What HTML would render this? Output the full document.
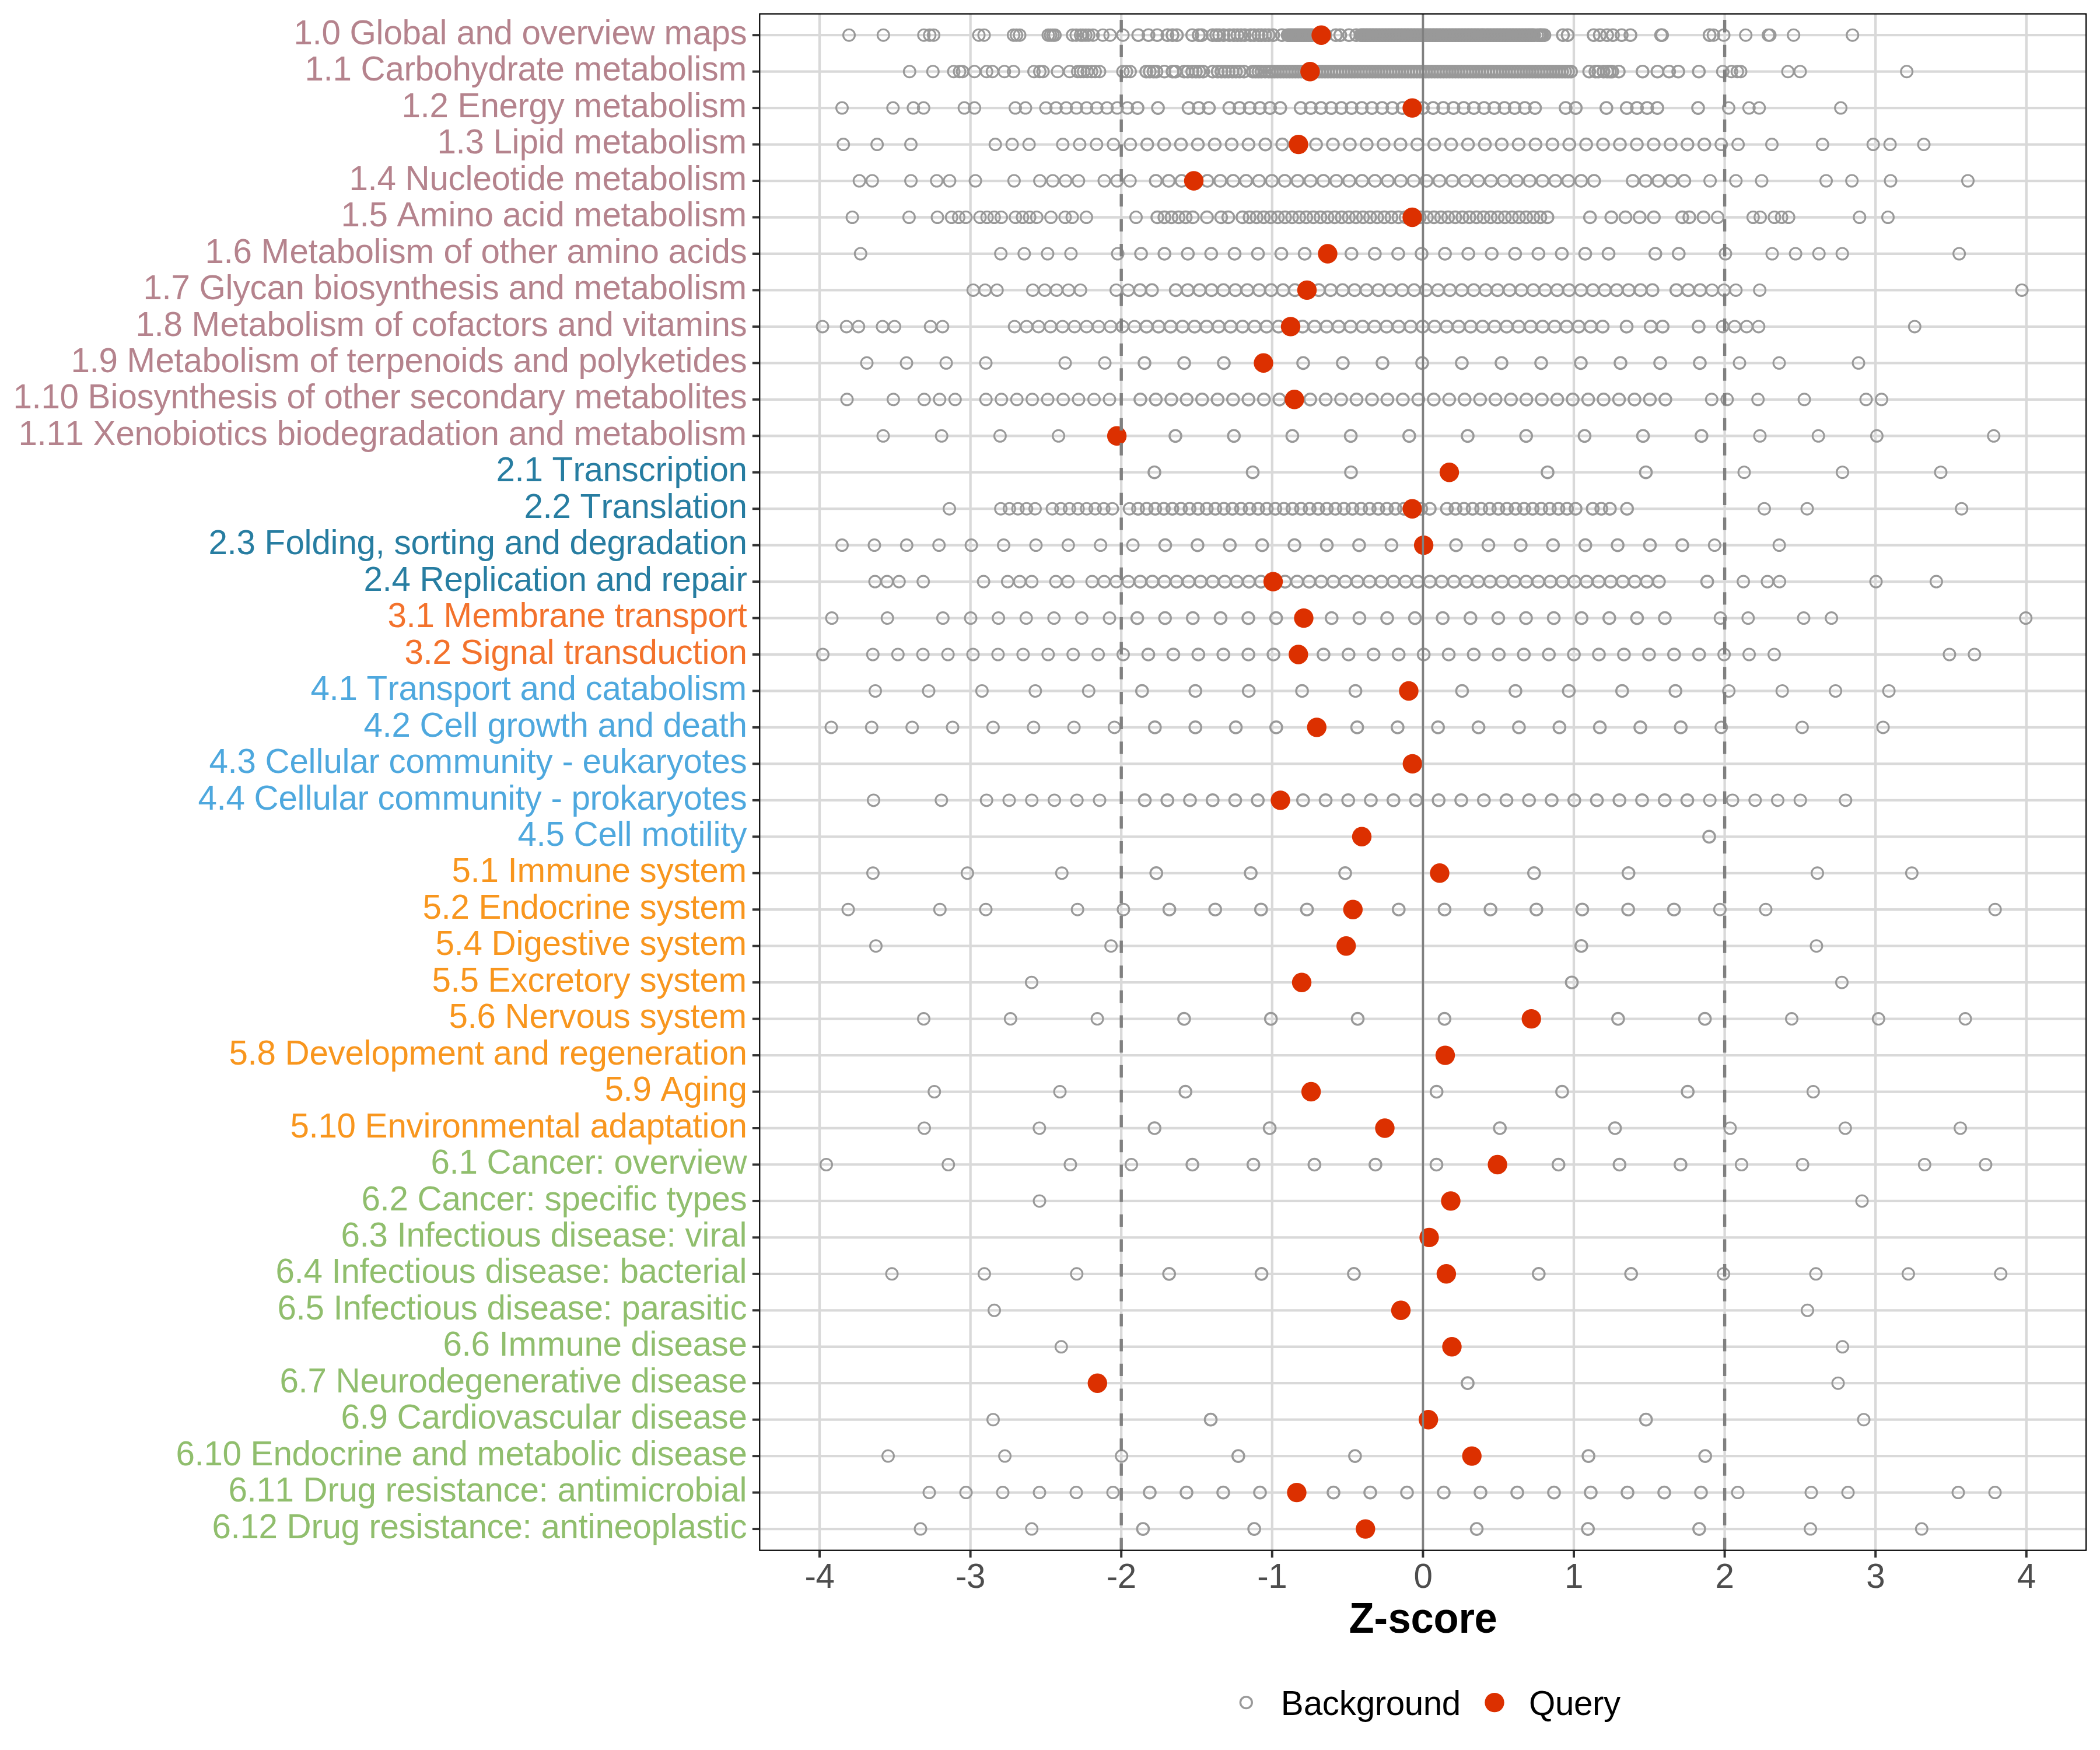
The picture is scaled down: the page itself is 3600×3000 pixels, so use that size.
<!DOCTYPE html>
<html><head><meta charset="utf-8"><title>Z-score</title>
<style>
html,body{margin:0;padding:0;background:#fff}
svg{display:block}
text{font-family:"Liberation Sans",sans-serif}
.yl{font-size:58.33px;text-anchor:end}
.xl{font-size:58.33px;text-anchor:middle;fill:#4D4D4D}
.bg{fill:none;stroke:#999999;stroke-width:3.45}
.q{fill:#DC3000}
</style></head><body>
<svg width="3600" height="3000" viewBox="0 0 3600 3000">
<rect width="3600" height="3000" fill="#fff"/>

<g stroke="#D9D9D9" stroke-width="4.3" fill="none">
<line x1="1302.3" x2="3576.2" y1="60.20" y2="60.20"/>
<line x1="1302.3" x2="3576.2" y1="122.66" y2="122.66"/>
<line x1="1302.3" x2="3576.2" y1="185.12" y2="185.12"/>
<line x1="1302.3" x2="3576.2" y1="247.58" y2="247.58"/>
<line x1="1302.3" x2="3576.2" y1="310.04" y2="310.04"/>
<line x1="1302.3" x2="3576.2" y1="372.50" y2="372.50"/>
<line x1="1302.3" x2="3576.2" y1="434.96" y2="434.96"/>
<line x1="1302.3" x2="3576.2" y1="497.42" y2="497.42"/>
<line x1="1302.3" x2="3576.2" y1="559.88" y2="559.88"/>
<line x1="1302.3" x2="3576.2" y1="622.34" y2="622.34"/>
<line x1="1302.3" x2="3576.2" y1="684.80" y2="684.80"/>
<line x1="1302.3" x2="3576.2" y1="747.26" y2="747.26"/>
<line x1="1302.3" x2="3576.2" y1="809.72" y2="809.72"/>
<line x1="1302.3" x2="3576.2" y1="872.18" y2="872.18"/>
<line x1="1302.3" x2="3576.2" y1="934.64" y2="934.64"/>
<line x1="1302.3" x2="3576.2" y1="997.10" y2="997.10"/>
<line x1="1302.3" x2="3576.2" y1="1059.56" y2="1059.56"/>
<line x1="1302.3" x2="3576.2" y1="1122.02" y2="1122.02"/>
<line x1="1302.3" x2="3576.2" y1="1184.48" y2="1184.48"/>
<line x1="1302.3" x2="3576.2" y1="1246.94" y2="1246.94"/>
<line x1="1302.3" x2="3576.2" y1="1309.40" y2="1309.40"/>
<line x1="1302.3" x2="3576.2" y1="1371.86" y2="1371.86"/>
<line x1="1302.3" x2="3576.2" y1="1434.32" y2="1434.32"/>
<line x1="1302.3" x2="3576.2" y1="1496.78" y2="1496.78"/>
<line x1="1302.3" x2="3576.2" y1="1559.24" y2="1559.24"/>
<line x1="1302.3" x2="3576.2" y1="1621.70" y2="1621.70"/>
<line x1="1302.3" x2="3576.2" y1="1684.16" y2="1684.16"/>
<line x1="1302.3" x2="3576.2" y1="1746.62" y2="1746.62"/>
<line x1="1302.3" x2="3576.2" y1="1809.08" y2="1809.08"/>
<line x1="1302.3" x2="3576.2" y1="1871.54" y2="1871.54"/>
<line x1="1302.3" x2="3576.2" y1="1934.00" y2="1934.00"/>
<line x1="1302.3" x2="3576.2" y1="1996.46" y2="1996.46"/>
<line x1="1302.3" x2="3576.2" y1="2058.92" y2="2058.92"/>
<line x1="1302.3" x2="3576.2" y1="2121.38" y2="2121.38"/>
<line x1="1302.3" x2="3576.2" y1="2183.84" y2="2183.84"/>
<line x1="1302.3" x2="3576.2" y1="2246.30" y2="2246.30"/>
<line x1="1302.3" x2="3576.2" y1="2308.76" y2="2308.76"/>
<line x1="1302.3" x2="3576.2" y1="2371.22" y2="2371.22"/>
<line x1="1302.3" x2="3576.2" y1="2433.68" y2="2433.68"/>
<line x1="1302.3" x2="3576.2" y1="2496.14" y2="2496.14"/>
<line x1="1302.3" x2="3576.2" y1="2558.60" y2="2558.60"/>
<line x1="1302.3" x2="3576.2" y1="2621.06" y2="2621.06"/>
<line x1="1405.00" x2="1405.00" y1="23.8" y2="2657.7"/>
<line x1="1663.60" x2="1663.60" y1="23.8" y2="2657.7"/>
<line x1="1922.20" x2="1922.20" y1="23.8" y2="2657.7"/>
<line x1="2180.80" x2="2180.80" y1="23.8" y2="2657.7"/>
<line x1="2439.40" x2="2439.40" y1="23.8" y2="2657.7"/>
<line x1="2698.00" x2="2698.00" y1="23.8" y2="2657.7"/>
<line x1="2956.60" x2="2956.60" y1="23.8" y2="2657.7"/>
<line x1="3215.20" x2="3215.20" y1="23.8" y2="2657.7"/>
<line x1="3473.80" x2="3473.80" y1="23.8" y2="2657.7"/>
</g>
<g class="bg">
<circle cx="1455.5" cy="60.2" r="9.95" stroke-width="3.1"/>
<circle cx="1514.3" cy="60.2" r="9.95" stroke-width="3.1"/>
<circle cx="1583.8" cy="60.2" r="9.95" stroke-width="3.1"/>
<circle cx="1593.8" cy="60.2" r="9.95" stroke-width="3.1"/>
<circle cx="1600.5" cy="60.2" r="9.95" stroke-width="3.1"/>
<circle cx="1678.0" cy="60.2" r="9.95" stroke-width="3.1"/>
<circle cx="1687.0" cy="60.2" r="9.95" stroke-width="3.1"/>
<circle cx="1737.5" cy="60.2" r="9.95" stroke-width="3.1"/>
<circle cx="1742.5" cy="60.2" r="9.95" stroke-width="3.1"/>
<circle cx="1748.0" cy="60.2" r="9.95" stroke-width="3.1"/>
<circle cx="1797.0" cy="60.2" r="9.95" stroke-width="3.1"/>
<circle cx="1801.0" cy="60.2" r="9.95" stroke-width="3.1"/>
<circle cx="1805.0" cy="60.2" r="9.95" stroke-width="3.1"/>
<circle cx="1808.5" cy="60.2" r="9.95" stroke-width="3.1"/>
<circle cx="1838.8" cy="60.2" r="9.95" stroke-width="3.1"/>
<circle cx="1845.0" cy="60.2" r="9.95" stroke-width="3.1"/>
<circle cx="1852.5" cy="60.2" r="9.95" stroke-width="3.1"/>
<circle cx="1856.3" cy="60.2" r="9.95" stroke-width="3.1"/>
<circle cx="1861.3" cy="60.2" r="9.95" stroke-width="3.1"/>
<circle cx="1866.3" cy="60.2" r="9.95" stroke-width="3.1"/>
<circle cx="1873.8" cy="60.2" r="9.95" stroke-width="3.1"/>
<circle cx="1890.5" cy="60.2" r="9.95" stroke-width="3.1"/>
<circle cx="1903.0" cy="60.2" r="9.95" stroke-width="3.1"/>
<circle cx="1925.0" cy="60.2" r="9.95" stroke-width="3.1"/>
<circle cx="1951.3" cy="60.2" r="10.1"/>
<circle cx="1968.8" cy="60.2" r="10.1"/>
<circle cx="1983.8" cy="60.2" r="10.1"/>
<circle cx="2001.3" cy="60.2" r="10.1"/>
<circle cx="2010.0" cy="60.2" r="10.1"/>
<circle cx="2017.5" cy="60.2" r="10.1"/>
<circle cx="2043.8" cy="60.2" r="10.1"/>
<circle cx="2055.0" cy="60.2" r="10.1"/>
<circle cx="2060.0" cy="60.2" r="10.1"/>
<circle cx="2078.8" cy="60.2" r="10.1"/>
<circle cx="2085.0" cy="60.2" r="10.1"/>
<circle cx="2090.0" cy="60.2" r="10.1"/>
<circle cx="2097.5" cy="60.2" r="10.1"/>
<circle cx="2107.5" cy="60.2" r="10.1"/>
<circle cx="2115.0" cy="60.2" r="10.1"/>
<circle cx="2121.3" cy="60.2" r="10.1"/>
<circle cx="2127.5" cy="60.2" r="10.1"/>
<circle cx="2133.8" cy="60.2" r="10.1"/>
<circle cx="2143.8" cy="60.2" r="10.1"/>
<circle cx="2150.0" cy="60.2" r="10.1"/>
<circle cx="2157.5" cy="60.2" r="10.1"/>
<circle cx="2162.5" cy="60.2" r="10.1"/>
<circle cx="2168.8" cy="60.2" r="10.1"/>
<circle cx="2175.0" cy="60.2" r="10.1"/>
<circle cx="2182.5" cy="60.2" r="10.1"/>
<circle cx="2197.5" cy="60.2" r="10.1"/>
<circle cx="2207.5" cy="60.2" r="10.1"/>
<circle cx="2210.5" cy="60.2" r="10.1"/>
<circle cx="2213.5" cy="60.2" r="10.1"/>
<circle cx="2216.5" cy="60.2" r="10.1"/>
<circle cx="2219.5" cy="60.2" r="10.1"/>
<circle cx="2222.5" cy="60.2" r="10.1"/>
<circle cx="2225.5" cy="60.2" r="10.1"/>
<circle cx="2228.5" cy="60.2" r="10.1"/>
<circle cx="2231.5" cy="60.2" r="10.1"/>
<circle cx="2234.5" cy="60.2" r="10.1"/>
<circle cx="2237.5" cy="60.2" r="10.1"/>
<circle cx="2240.5" cy="60.2" r="10.1"/>
<circle cx="2243.5" cy="60.2" r="10.1"/>
<circle cx="2246.5" cy="60.2" r="10.1"/>
<circle cx="2249.5" cy="60.2" r="10.1"/>
<circle cx="2257.0" cy="60.2" r="10.1"/>
<circle cx="2272.0" cy="60.2" r="10.1"/>
<circle cx="2290.0" cy="60.2" r="10.1"/>
<circle cx="2297.5" cy="60.2" r="10.1"/>
<circle cx="2312.5" cy="60.2" r="10.1"/>
<circle cx="2325.0" cy="60.2" r="10.1"/>
<circle cx="2332.5" cy="60.2" r="10.1"/>
<circle cx="2335.0" cy="60.2" r="10.1"/>
<circle cx="2337.5" cy="60.2" r="10.1"/>
<circle cx="2340.0" cy="60.2" r="10.1"/>
<circle cx="2342.5" cy="60.2" r="10.1"/>
<circle cx="2345.0" cy="60.2" r="10.1"/>
<circle cx="2347.5" cy="60.2" r="10.1"/>
<circle cx="2350.0" cy="60.2" r="10.1"/>
<circle cx="2352.5" cy="60.2" r="10.1"/>
<circle cx="2355.0" cy="60.2" r="10.1"/>
<circle cx="2357.5" cy="60.2" r="10.1"/>
<circle cx="2360.0" cy="60.2" r="10.1"/>
<circle cx="2362.5" cy="60.2" r="10.1"/>
<circle cx="2365.0" cy="60.2" r="10.1"/>
<circle cx="2367.5" cy="60.2" r="10.1"/>
<circle cx="2370.0" cy="60.2" r="10.1"/>
<circle cx="2372.5" cy="60.2" r="10.1"/>
<circle cx="2375.0" cy="60.2" r="10.1"/>
<circle cx="2377.5" cy="60.2" r="10.1"/>
<circle cx="2380.0" cy="60.2" r="10.1"/>
<circle cx="2382.5" cy="60.2" r="10.1"/>
<circle cx="2385.0" cy="60.2" r="10.1"/>
<circle cx="2387.5" cy="60.2" r="10.1"/>
<circle cx="2390.0" cy="60.2" r="10.1"/>
<circle cx="2392.5" cy="60.2" r="10.1"/>
<circle cx="2395.0" cy="60.2" r="10.1"/>
<circle cx="2397.5" cy="60.2" r="10.1"/>
<circle cx="2400.0" cy="60.2" r="10.1"/>
<circle cx="2402.5" cy="60.2" r="10.1"/>
<circle cx="2405.0" cy="60.2" r="10.1"/>
<circle cx="2407.5" cy="60.2" r="10.1"/>
<circle cx="2410.0" cy="60.2" r="10.1"/>
<circle cx="2412.5" cy="60.2" r="10.1"/>
<circle cx="2415.0" cy="60.2" r="10.1"/>
<circle cx="2417.5" cy="60.2" r="10.1"/>
<circle cx="2420.0" cy="60.2" r="10.1"/>
<circle cx="2422.5" cy="60.2" r="10.1"/>
<circle cx="2425.0" cy="60.2" r="10.1"/>
<circle cx="2427.5" cy="60.2" r="10.1"/>
<circle cx="2430.0" cy="60.2" r="10.1"/>
<circle cx="2432.5" cy="60.2" r="10.1"/>
<circle cx="2435.0" cy="60.2" r="10.1"/>
<circle cx="2437.5" cy="60.2" r="10.1"/>
<circle cx="2440.0" cy="60.2" r="10.1"/>
<circle cx="2442.5" cy="60.2" r="10.1"/>
<circle cx="2445.0" cy="60.2" r="10.1"/>
<circle cx="2447.5" cy="60.2" r="10.1"/>
<circle cx="2450.0" cy="60.2" r="10.1"/>
<circle cx="2452.5" cy="60.2" r="10.1"/>
<circle cx="2455.0" cy="60.2" r="10.1"/>
<circle cx="2457.5" cy="60.2" r="10.1"/>
<circle cx="2460.0" cy="60.2" r="10.1"/>
<circle cx="2462.5" cy="60.2" r="10.1"/>
<circle cx="2465.0" cy="60.2" r="10.1"/>
<circle cx="2467.5" cy="60.2" r="10.1"/>
<circle cx="2470.0" cy="60.2" r="10.1"/>
<circle cx="2472.5" cy="60.2" r="10.1"/>
<circle cx="2475.0" cy="60.2" r="10.1"/>
<circle cx="2477.5" cy="60.2" r="10.1"/>
<circle cx="2480.0" cy="60.2" r="10.1"/>
<circle cx="2482.5" cy="60.2" r="10.1"/>
<circle cx="2485.0" cy="60.2" r="10.1"/>
<circle cx="2487.5" cy="60.2" r="10.1"/>
<circle cx="2490.0" cy="60.2" r="10.1"/>
<circle cx="2492.5" cy="60.2" r="10.1"/>
<circle cx="2495.0" cy="60.2" r="10.1"/>
<circle cx="2497.5" cy="60.2" r="10.1"/>
<circle cx="2500.0" cy="60.2" r="10.1"/>
<circle cx="2502.5" cy="60.2" r="10.1"/>
<circle cx="2505.0" cy="60.2" r="10.1"/>
<circle cx="2507.5" cy="60.2" r="10.1"/>
<circle cx="2510.0" cy="60.2" r="10.1"/>
<circle cx="2512.5" cy="60.2" r="10.1"/>
<circle cx="2515.0" cy="60.2" r="10.1"/>
<circle cx="2517.5" cy="60.2" r="10.1"/>
<circle cx="2520.0" cy="60.2" r="10.1"/>
<circle cx="2522.5" cy="60.2" r="10.1"/>
<circle cx="2525.0" cy="60.2" r="10.1"/>
<circle cx="2527.5" cy="60.2" r="10.1"/>
<circle cx="2530.0" cy="60.2" r="10.1"/>
<circle cx="2532.5" cy="60.2" r="10.1"/>
<circle cx="2535.0" cy="60.2" r="10.1"/>
<circle cx="2537.5" cy="60.2" r="10.1"/>
<circle cx="2540.0" cy="60.2" r="10.1"/>
<circle cx="2542.5" cy="60.2" r="10.1"/>
<circle cx="2545.0" cy="60.2" r="10.1"/>
<circle cx="2547.5" cy="60.2" r="10.1"/>
<circle cx="2550.0" cy="60.2" r="10.1"/>
<circle cx="2552.5" cy="60.2" r="10.1"/>
<circle cx="2555.0" cy="60.2" r="10.1"/>
<circle cx="2557.5" cy="60.2" r="10.1"/>
<circle cx="2560.0" cy="60.2" r="10.1"/>
<circle cx="2562.5" cy="60.2" r="10.1"/>
<circle cx="2565.0" cy="60.2" r="10.1"/>
<circle cx="2567.5" cy="60.2" r="10.1"/>
<circle cx="2570.0" cy="60.2" r="10.1"/>
<circle cx="2572.5" cy="60.2" r="10.1"/>
<circle cx="2575.0" cy="60.2" r="10.1"/>
<circle cx="2577.5" cy="60.2" r="10.1"/>
<circle cx="2580.0" cy="60.2" r="10.1"/>
<circle cx="2582.5" cy="60.2" r="10.1"/>
<circle cx="2585.0" cy="60.2" r="10.1"/>
<circle cx="2587.5" cy="60.2" r="10.1"/>
<circle cx="2590.0" cy="60.2" r="10.1"/>
<circle cx="2592.5" cy="60.2" r="10.1"/>
<circle cx="2595.0" cy="60.2" r="10.1"/>
<circle cx="2597.5" cy="60.2" r="10.1"/>
<circle cx="2600.0" cy="60.2" r="10.1"/>
<circle cx="2602.5" cy="60.2" r="10.1"/>
<circle cx="2605.0" cy="60.2" r="10.1"/>
<circle cx="2607.5" cy="60.2" r="10.1"/>
<circle cx="2610.0" cy="60.2" r="10.1"/>
<circle cx="2612.5" cy="60.2" r="10.1"/>
<circle cx="2615.0" cy="60.2" r="10.1"/>
<circle cx="2617.5" cy="60.2" r="10.1"/>
<circle cx="2620.0" cy="60.2" r="10.1"/>
<circle cx="2622.5" cy="60.2" r="10.1"/>
<circle cx="2625.0" cy="60.2" r="10.1"/>
<circle cx="2627.5" cy="60.2" r="10.1"/>
<circle cx="2630.0" cy="60.2" r="10.1"/>
<circle cx="2635.0" cy="60.2" r="10.1"/>
<circle cx="2638.8" cy="60.2" r="10.1"/>
<circle cx="2641.3" cy="60.2" r="10.1"/>
<circle cx="2643.8" cy="60.2" r="10.1"/>
<circle cx="2647.5" cy="60.2" r="10.1"/>
<circle cx="2679.3" cy="60.2" r="10.1"/>
<circle cx="2687.5" cy="60.2" r="10.1"/>
<circle cx="2732.0" cy="60.2" r="10.1"/>
<circle cx="2742.5" cy="60.2" r="10.1"/>
<circle cx="2755.0" cy="60.2" r="10.1"/>
<circle cx="2765.0" cy="60.2" r="10.1"/>
<circle cx="2780.0" cy="60.2" r="10.1"/>
<circle cx="2795.0" cy="60.2" r="10.1"/>
<circle cx="2847.6" cy="60.2" r="10.1"/>
<circle cx="2849.2" cy="60.2" r="10.1"/>
<circle cx="2930.7" cy="60.2" r="10.1"/>
<circle cx="2937.3" cy="60.2" r="9.95" stroke-width="3.1"/>
<circle cx="2955.0" cy="60.2" r="9.95" stroke-width="3.1"/>
<circle cx="2992.7" cy="60.2" r="9.95" stroke-width="3.1"/>
<circle cx="3031.5" cy="60.2" r="9.95" stroke-width="3.1"/>
<circle cx="3034.0" cy="60.2" r="9.95" stroke-width="3.1"/>
<circle cx="3074.7" cy="60.2" r="9.95" stroke-width="3.1"/>
<circle cx="3175.7" cy="60.2" r="9.95" stroke-width="3.1"/>
<circle cx="1559.3" cy="122.7" r="9.95" stroke-width="3.1"/>
<circle cx="1599.3" cy="122.7" r="9.95" stroke-width="3.1"/>
<circle cx="1635.0" cy="122.7" r="9.95" stroke-width="3.1"/>
<circle cx="1645.0" cy="122.7" r="9.95" stroke-width="3.1"/>
<circle cx="1650.0" cy="122.7" r="9.95" stroke-width="3.1"/>
<circle cx="1670.5" cy="122.7" r="9.95" stroke-width="3.1"/>
<circle cx="1691.3" cy="122.7" r="9.95" stroke-width="3.1"/>
<circle cx="1701.3" cy="122.7" r="9.95" stroke-width="3.1"/>
<circle cx="1721.8" cy="122.7" r="9.95" stroke-width="3.1"/>
<circle cx="1737.5" cy="122.7" r="9.95" stroke-width="3.1"/>
<circle cx="1772.5" cy="122.7" r="9.95" stroke-width="3.1"/>
<circle cx="1782.5" cy="122.7" r="9.95" stroke-width="3.1"/>
<circle cx="1788.0" cy="122.7" r="9.95" stroke-width="3.1"/>
<circle cx="1813.0" cy="122.7" r="9.95" stroke-width="3.1"/>
<circle cx="1833.8" cy="122.7" r="9.95" stroke-width="3.1"/>
<circle cx="1847.5" cy="122.7" r="9.95" stroke-width="3.1"/>
<circle cx="1852.5" cy="122.7" r="9.95" stroke-width="3.1"/>
<circle cx="1857.5" cy="122.7" r="9.95" stroke-width="3.1"/>
<circle cx="1863.8" cy="122.7" r="9.95" stroke-width="3.1"/>
<circle cx="1871.3" cy="122.7" r="9.95" stroke-width="3.1"/>
<circle cx="1877.5" cy="122.7" r="9.95" stroke-width="3.1"/>
<circle cx="1885.0" cy="122.7" r="9.95" stroke-width="3.1"/>
<circle cx="1925.0" cy="122.7" r="9.95" stroke-width="3.1"/>
<circle cx="1931.0" cy="122.7" r="9.95" stroke-width="3.1"/>
<circle cx="1937.5" cy="122.7" r="9.95" stroke-width="3.1"/>
<circle cx="1965.0" cy="122.7" r="10.1"/>
<circle cx="1971.0" cy="122.7" r="10.1"/>
<circle cx="1977.5" cy="122.7" r="10.1"/>
<circle cx="1982.5" cy="122.7" r="10.1"/>
<circle cx="1996.0" cy="122.7" r="10.1"/>
<circle cx="2010.0" cy="122.7" r="10.1"/>
<circle cx="2015.0" cy="122.7" r="10.1"/>
<circle cx="2030.0" cy="122.7" r="10.1"/>
<circle cx="2036.0" cy="122.7" r="10.1"/>
<circle cx="2043.8" cy="122.7" r="10.1"/>
<circle cx="2050.0" cy="122.7" r="10.1"/>
<circle cx="2056.0" cy="122.7" r="10.1"/>
<circle cx="2062.5" cy="122.7" r="10.1"/>
<circle cx="2078.8" cy="122.7" r="10.1"/>
<circle cx="2087.5" cy="122.7" r="10.1"/>
<circle cx="2093.8" cy="122.7" r="10.1"/>
<circle cx="2100.0" cy="122.7" r="10.1"/>
<circle cx="2106.0" cy="122.7" r="10.1"/>
<circle cx="2112.5" cy="122.7" r="10.1"/>
<circle cx="2118.8" cy="122.7" r="10.1"/>
<circle cx="2125.0" cy="122.7" r="10.1"/>
<circle cx="2132.5" cy="122.7" r="10.1"/>
<circle cx="2147.5" cy="122.7" r="10.1"/>
<circle cx="2152.5" cy="122.7" r="10.1"/>
<circle cx="2157.5" cy="122.7" r="10.1"/>
<circle cx="2162.5" cy="122.7" r="10.1"/>
<circle cx="2168.8" cy="122.7" r="10.1"/>
<circle cx="2175.0" cy="122.7" r="10.1"/>
<circle cx="2180.1" cy="122.7" r="10.1"/>
<circle cx="2185.2" cy="122.7" r="10.1"/>
<circle cx="2190.2" cy="122.7" r="10.1"/>
<circle cx="2195.3" cy="122.7" r="10.1"/>
<circle cx="2200.4" cy="122.7" r="10.1"/>
<circle cx="2205.5" cy="122.7" r="10.1"/>
<circle cx="2210.6" cy="122.7" r="10.1"/>
<circle cx="2215.6" cy="122.7" r="10.1"/>
<circle cx="2220.7" cy="122.7" r="10.1"/>
<circle cx="2225.8" cy="122.7" r="10.1"/>
<circle cx="2230.9" cy="122.7" r="10.1"/>
<circle cx="2236.0" cy="122.7" r="10.1"/>
<circle cx="2241.0" cy="122.7" r="10.1"/>
<circle cx="2246.1" cy="122.7" r="10.1"/>
<circle cx="2251.2" cy="122.7" r="10.1"/>
<circle cx="2256.3" cy="122.7" r="10.1"/>
<circle cx="2261.4" cy="122.7" r="10.1"/>
<circle cx="2266.4" cy="122.7" r="10.1"/>
<circle cx="2271.5" cy="122.7" r="10.1"/>
<circle cx="2276.6" cy="122.7" r="10.1"/>
<circle cx="2281.7" cy="122.7" r="10.1"/>
<circle cx="2286.8" cy="122.7" r="10.1"/>
<circle cx="2291.8" cy="122.7" r="10.1"/>
<circle cx="2296.9" cy="122.7" r="10.1"/>
<circle cx="2302.0" cy="122.7" r="10.1"/>
<circle cx="2307.1" cy="122.7" r="10.1"/>
<circle cx="2312.2" cy="122.7" r="10.1"/>
<circle cx="2317.2" cy="122.7" r="10.1"/>
<circle cx="2322.3" cy="122.7" r="10.1"/>
<circle cx="2327.4" cy="122.7" r="10.1"/>
<circle cx="2332.5" cy="122.7" r="10.1"/>
<circle cx="2337.6" cy="122.7" r="10.1"/>
<circle cx="2342.6" cy="122.7" r="10.1"/>
<circle cx="2347.7" cy="122.7" r="10.1"/>
<circle cx="2352.8" cy="122.7" r="10.1"/>
<circle cx="2357.9" cy="122.7" r="10.1"/>
<circle cx="2363.0" cy="122.7" r="10.1"/>
<circle cx="2368.0" cy="122.7" r="10.1"/>
<circle cx="2373.1" cy="122.7" r="10.1"/>
<circle cx="2378.2" cy="122.7" r="10.1"/>
<circle cx="2383.3" cy="122.7" r="10.1"/>
<circle cx="2388.4" cy="122.7" r="10.1"/>
<circle cx="2393.4" cy="122.7" r="10.1"/>
<circle cx="2398.5" cy="122.7" r="10.1"/>
<circle cx="2403.6" cy="122.7" r="10.1"/>
<circle cx="2408.7" cy="122.7" r="10.1"/>
<circle cx="2413.8" cy="122.7" r="10.1"/>
<circle cx="2418.8" cy="122.7" r="10.1"/>
<circle cx="2423.9" cy="122.7" r="10.1"/>
<circle cx="2429.0" cy="122.7" r="10.1"/>
<circle cx="2434.1" cy="122.7" r="10.1"/>
<circle cx="2439.2" cy="122.7" r="10.1"/>
<circle cx="2444.2" cy="122.7" r="10.1"/>
<circle cx="2449.3" cy="122.7" r="10.1"/>
<circle cx="2454.4" cy="122.7" r="10.1"/>
<circle cx="2459.5" cy="122.7" r="10.1"/>
<circle cx="2464.6" cy="122.7" r="10.1"/>
<circle cx="2469.6" cy="122.7" r="10.1"/>
<circle cx="2474.7" cy="122.7" r="10.1"/>
<circle cx="2479.8" cy="122.7" r="10.1"/>
<circle cx="2484.9" cy="122.7" r="10.1"/>
<circle cx="2490.0" cy="122.7" r="10.1"/>
<circle cx="2495.0" cy="122.7" r="10.1"/>
<circle cx="2500.1" cy="122.7" r="10.1"/>
<circle cx="2505.2" cy="122.7" r="10.1"/>
<circle cx="2510.3" cy="122.7" r="10.1"/>
<circle cx="2515.4" cy="122.7" r="10.1"/>
<circle cx="2520.4" cy="122.7" r="10.1"/>
<circle cx="2525.5" cy="122.7" r="10.1"/>
<circle cx="2530.6" cy="122.7" r="10.1"/>
<circle cx="2535.7" cy="122.7" r="10.1"/>
<circle cx="2540.8" cy="122.7" r="10.1"/>
<circle cx="2545.8" cy="122.7" r="10.1"/>
<circle cx="2550.9" cy="122.7" r="10.1"/>
<circle cx="2556.0" cy="122.7" r="10.1"/>
<circle cx="2561.1" cy="122.7" r="10.1"/>
<circle cx="2566.2" cy="122.7" r="10.1"/>
<circle cx="2571.2" cy="122.7" r="10.1"/>
<circle cx="2576.3" cy="122.7" r="10.1"/>
<circle cx="2581.4" cy="122.7" r="10.1"/>
<circle cx="2586.5" cy="122.7" r="10.1"/>
<circle cx="2591.6" cy="122.7" r="10.1"/>
<circle cx="2596.6" cy="122.7" r="10.1"/>
<circle cx="2601.7" cy="122.7" r="10.1"/>
<circle cx="2606.8" cy="122.7" r="10.1"/>
<circle cx="2611.9" cy="122.7" r="10.1"/>
<circle cx="2617.0" cy="122.7" r="10.1"/>
<circle cx="2622.0" cy="122.7" r="10.1"/>
<circle cx="2627.1" cy="122.7" r="10.1"/>
<circle cx="2632.2" cy="122.7" r="10.1"/>
<circle cx="2637.3" cy="122.7" r="10.1"/>
<circle cx="2642.4" cy="122.7" r="10.1"/>
<circle cx="2647.4" cy="122.7" r="10.1"/>
<circle cx="2652.5" cy="122.7" r="10.1"/>
<circle cx="2657.6" cy="122.7" r="10.1"/>
<circle cx="2662.7" cy="122.7" r="10.1"/>
<circle cx="2667.8" cy="122.7" r="10.1"/>
<circle cx="2672.8" cy="122.7" r="10.1"/>
<circle cx="2677.9" cy="122.7" r="10.1"/>
<circle cx="2683.0" cy="122.7" r="10.1"/>
<circle cx="2688.1" cy="122.7" r="10.1"/>
<circle cx="2693.2" cy="122.7" r="10.1"/>
<circle cx="2724.3" cy="122.7" r="10.1"/>
<circle cx="2735.0" cy="122.7" r="10.1"/>
<circle cx="2740.0" cy="122.7" r="10.1"/>
<circle cx="2748.8" cy="122.7" r="10.1"/>
<circle cx="2755.0" cy="122.7" r="10.1"/>
<circle cx="2760.0" cy="122.7" r="10.1"/>
<circle cx="2763.8" cy="122.7" r="10.1"/>
<circle cx="2775.0" cy="122.7" r="10.1"/>
<circle cx="2815.8" cy="122.7" r="10.1"/>
<circle cx="2841.3" cy="122.7" r="10.1"/>
<circle cx="2861.3" cy="122.7" r="10.1"/>
<circle cx="2877.0" cy="122.7" r="10.1"/>
<circle cx="2912.3" cy="122.7" r="10.1"/>
<circle cx="2953.3" cy="122.7" r="9.95" stroke-width="3.1"/>
<circle cx="2968.3" cy="122.7" r="9.95" stroke-width="3.1"/>
<circle cx="2978.3" cy="122.7" r="9.95" stroke-width="3.1"/>
<circle cx="2984.0" cy="122.7" r="9.95" stroke-width="3.1"/>
<circle cx="3065.0" cy="122.7" r="9.95" stroke-width="3.1"/>
<circle cx="3086.0" cy="122.7" r="9.95" stroke-width="3.1"/>
<circle cx="3268.7" cy="122.7" r="9.95" stroke-width="3.1"/>
<circle cx="1443.5" cy="185.1" r="9.95" stroke-width="3.1"/>
<circle cx="1530.8" cy="185.1" r="9.95" stroke-width="3.1"/>
<circle cx="1565.8" cy="185.1" r="9.95" stroke-width="3.1"/>
<circle cx="1583.3" cy="185.1" r="9.95" stroke-width="3.1"/>
<circle cx="1653.1" cy="185.1" r="9.95" stroke-width="3.1"/>
<circle cx="1670.6" cy="185.1" r="9.95" stroke-width="3.1"/>
<circle cx="1740.5" cy="185.1" r="9.95" stroke-width="3.1"/>
<circle cx="1758.0" cy="185.1" r="9.95" stroke-width="3.1"/>
<circle cx="1792.9" cy="185.1" r="9.95" stroke-width="3.1"/>
<circle cx="1810.4" cy="185.1" r="9.95" stroke-width="3.1"/>
<circle cx="1827.8" cy="185.1" r="9.95" stroke-width="3.1"/>
<circle cx="1845.3" cy="185.1" r="9.95" stroke-width="3.1"/>
<circle cx="1862.8" cy="185.1" r="9.95" stroke-width="3.1"/>
<circle cx="1880.2" cy="185.1" r="9.95" stroke-width="3.1"/>
<circle cx="1897.7" cy="185.1" r="9.95" stroke-width="3.1"/>
<circle cx="1915.2" cy="185.1" r="9.95" stroke-width="3.1"/>
<circle cx="1932.7" cy="185.1" r="9.95" stroke-width="3.1"/>
<circle cx="1950.1" cy="185.1" r="10.1"/>
<circle cx="1985.1" cy="185.1" r="10.1"/>
<circle cx="2037.5" cy="185.1" r="10.1"/>
<circle cx="2054.9" cy="185.1" r="10.1"/>
<circle cx="2072.4" cy="185.1" r="10.1"/>
<circle cx="2107.4" cy="185.1" r="10.1"/>
<circle cx="2124.8" cy="185.1" r="10.1"/>
<circle cx="2142.3" cy="185.1" r="10.1"/>
<circle cx="2159.8" cy="185.1" r="10.1"/>
<circle cx="2177.2" cy="185.1" r="10.1"/>
<circle cx="2194.7" cy="185.1" r="10.1"/>
<circle cx="2229.7" cy="185.1" r="10.1"/>
<circle cx="2247.1" cy="185.1" r="10.1"/>
<circle cx="2264.6" cy="185.1" r="10.1"/>
<circle cx="2282.1" cy="185.1" r="10.1"/>
<circle cx="2299.5" cy="185.1" r="10.1"/>
<circle cx="2317.0" cy="185.1" r="10.1"/>
<circle cx="2334.5" cy="185.1" r="10.1"/>
<circle cx="2351.9" cy="185.1" r="10.1"/>
<circle cx="2369.4" cy="185.1" r="10.1"/>
<circle cx="2386.9" cy="185.1" r="10.1"/>
<circle cx="2404.3" cy="185.1" r="10.1"/>
<circle cx="2421.8" cy="185.1" r="10.1"/>
<circle cx="2439.3" cy="185.1" r="10.1"/>
<circle cx="2456.8" cy="185.1" r="10.1"/>
<circle cx="2474.2" cy="185.1" r="10.1"/>
<circle cx="2491.7" cy="185.1" r="10.1"/>
<circle cx="2509.2" cy="185.1" r="10.1"/>
<circle cx="2526.6" cy="185.1" r="10.1"/>
<circle cx="2544.1" cy="185.1" r="10.1"/>
<circle cx="2561.6" cy="185.1" r="10.1"/>
<circle cx="2579.1" cy="185.1" r="10.1"/>
<circle cx="2596.5" cy="185.1" r="10.1"/>
<circle cx="2614.0" cy="185.1" r="10.1"/>
<circle cx="2631.5" cy="185.1" r="10.1"/>
<circle cx="2683.9" cy="185.1" r="10.1"/>
<circle cx="2701.3" cy="185.1" r="10.1"/>
<circle cx="2753.8" cy="185.1" r="10.1"/>
<circle cx="2788.7" cy="185.1" r="10.1"/>
<circle cx="2806.2" cy="185.1" r="10.1"/>
<circle cx="2823.6" cy="185.1" r="10.1"/>
<circle cx="2841.1" cy="185.1" r="10.1"/>
<circle cx="2911.0" cy="185.1" r="10.1"/>
<circle cx="2963.4" cy="185.1" r="9.95" stroke-width="3.1"/>
<circle cx="2998.3" cy="185.1" r="9.95" stroke-width="3.1"/>
<circle cx="3015.8" cy="185.1" r="9.95" stroke-width="3.1"/>
<circle cx="3155.6" cy="185.1" r="9.95" stroke-width="3.1"/>
<circle cx="1445.7" cy="247.6" r="9.95" stroke-width="3.1"/>
<circle cx="1503.6" cy="247.6" r="9.95" stroke-width="3.1"/>
<circle cx="1561.5" cy="247.6" r="9.95" stroke-width="3.1"/>
<circle cx="1706.2" cy="247.6" r="9.95" stroke-width="3.1"/>
<circle cx="1735.1" cy="247.6" r="9.95" stroke-width="3.1"/>
<circle cx="1764.1" cy="247.6" r="9.95" stroke-width="3.1"/>
<circle cx="1821.9" cy="247.6" r="9.95" stroke-width="3.1"/>
<circle cx="1850.9" cy="247.6" r="9.95" stroke-width="3.1"/>
<circle cx="1879.8" cy="247.6" r="9.95" stroke-width="3.1"/>
<circle cx="1908.8" cy="247.6" r="9.95" stroke-width="3.1"/>
<circle cx="1937.7" cy="247.6" r="9.95" stroke-width="3.1"/>
<circle cx="1966.7" cy="247.6" r="10.1"/>
<circle cx="1995.6" cy="247.6" r="10.1"/>
<circle cx="2024.5" cy="247.6" r="10.1"/>
<circle cx="2053.5" cy="247.6" r="10.1"/>
<circle cx="2082.4" cy="247.6" r="10.1"/>
<circle cx="2111.4" cy="247.6" r="10.1"/>
<circle cx="2140.3" cy="247.6" r="10.1"/>
<circle cx="2169.2" cy="247.6" r="10.1"/>
<circle cx="2198.2" cy="247.6" r="10.1"/>
<circle cx="2227.1" cy="247.6" r="10.1"/>
<circle cx="2256.1" cy="247.6" r="10.1"/>
<circle cx="2285.0" cy="247.6" r="10.1"/>
<circle cx="2314.0" cy="247.6" r="10.1"/>
<circle cx="2342.9" cy="247.6" r="10.1"/>
<circle cx="2371.8" cy="247.6" r="10.1"/>
<circle cx="2400.8" cy="247.6" r="10.1"/>
<circle cx="2429.7" cy="247.6" r="10.1"/>
<circle cx="2458.7" cy="247.6" r="10.1"/>
<circle cx="2487.6" cy="247.6" r="10.1"/>
<circle cx="2516.6" cy="247.6" r="10.1"/>
<circle cx="2545.5" cy="247.6" r="10.1"/>
<circle cx="2574.4" cy="247.6" r="10.1"/>
<circle cx="2603.4" cy="247.6" r="10.1"/>
<circle cx="2632.3" cy="247.6" r="10.1"/>
<circle cx="2661.3" cy="247.6" r="10.1"/>
<circle cx="2690.2" cy="247.6" r="10.1"/>
<circle cx="2719.1" cy="247.6" r="10.1"/>
<circle cx="2748.1" cy="247.6" r="10.1"/>
<circle cx="2777.0" cy="247.6" r="10.1"/>
<circle cx="2806.0" cy="247.6" r="10.1"/>
<circle cx="2834.9" cy="247.6" r="10.1"/>
<circle cx="2863.9" cy="247.6" r="10.1"/>
<circle cx="2892.8" cy="247.6" r="10.1"/>
<circle cx="2921.7" cy="247.6" r="10.1"/>
<circle cx="2950.7" cy="247.6" r="9.95" stroke-width="3.1"/>
<circle cx="2979.6" cy="247.6" r="9.95" stroke-width="3.1"/>
<circle cx="3037.5" cy="247.6" r="9.95" stroke-width="3.1"/>
<circle cx="3124.3" cy="247.6" r="9.95" stroke-width="3.1"/>
<circle cx="3211.2" cy="247.6" r="9.95" stroke-width="3.1"/>
<circle cx="3240.1" cy="247.6" r="9.95" stroke-width="3.1"/>
<circle cx="3298.0" cy="247.6" r="9.95" stroke-width="3.1"/>
<circle cx="1473.2" cy="310.0" r="9.95" stroke-width="3.1"/>
<circle cx="1495.3" cy="310.0" r="9.95" stroke-width="3.1"/>
<circle cx="1561.6" cy="310.0" r="9.95" stroke-width="3.1"/>
<circle cx="1605.8" cy="310.0" r="9.95" stroke-width="3.1"/>
<circle cx="1627.9" cy="310.0" r="9.95" stroke-width="3.1"/>
<circle cx="1672.1" cy="310.0" r="9.95" stroke-width="3.1"/>
<circle cx="1738.4" cy="310.0" r="9.95" stroke-width="3.1"/>
<circle cx="1782.6" cy="310.0" r="9.95" stroke-width="3.1"/>
<circle cx="1804.7" cy="310.0" r="9.95" stroke-width="3.1"/>
<circle cx="1826.8" cy="310.0" r="9.95" stroke-width="3.1"/>
<circle cx="1848.8" cy="310.0" r="9.95" stroke-width="3.1"/>
<circle cx="1893.0" cy="310.0" r="9.95" stroke-width="3.1"/>
<circle cx="1915.1" cy="310.0" r="9.95" stroke-width="3.1"/>
<circle cx="1937.2" cy="310.0" r="9.95" stroke-width="3.1"/>
<circle cx="1981.4" cy="310.0" r="10.1"/>
<circle cx="2003.5" cy="310.0" r="10.1"/>
<circle cx="2025.6" cy="310.0" r="10.1"/>
<circle cx="2047.7" cy="310.0" r="10.1"/>
<circle cx="2069.8" cy="310.0" r="10.1"/>
<circle cx="2091.9" cy="310.0" r="10.1"/>
<circle cx="2114.0" cy="310.0" r="10.1"/>
<circle cx="2136.1" cy="310.0" r="10.1"/>
<circle cx="2158.2" cy="310.0" r="10.1"/>
<circle cx="2180.3" cy="310.0" r="10.1"/>
<circle cx="2202.4" cy="310.0" r="10.1"/>
<circle cx="2224.5" cy="310.0" r="10.1"/>
<circle cx="2246.6" cy="310.0" r="10.1"/>
<circle cx="2268.7" cy="310.0" r="10.1"/>
<circle cx="2290.8" cy="310.0" r="10.1"/>
<circle cx="2312.9" cy="310.0" r="10.1"/>
<circle cx="2335.0" cy="310.0" r="10.1"/>
<circle cx="2357.1" cy="310.0" r="10.1"/>
<circle cx="2379.2" cy="310.0" r="10.1"/>
<circle cx="2401.3" cy="310.0" r="10.1"/>
<circle cx="2423.4" cy="310.0" r="10.1"/>
<circle cx="2445.5" cy="310.0" r="10.1"/>
<circle cx="2467.6" cy="310.0" r="10.1"/>
<circle cx="2489.7" cy="310.0" r="10.1"/>
<circle cx="2511.8" cy="310.0" r="10.1"/>
<circle cx="2533.9" cy="310.0" r="10.1"/>
<circle cx="2556.0" cy="310.0" r="10.1"/>
<circle cx="2578.1" cy="310.0" r="10.1"/>
<circle cx="2600.1" cy="310.0" r="10.1"/>
<circle cx="2622.2" cy="310.0" r="10.1"/>
<circle cx="2644.3" cy="310.0" r="10.1"/>
<circle cx="2666.4" cy="310.0" r="10.1"/>
<circle cx="2688.5" cy="310.0" r="10.1"/>
<circle cx="2710.6" cy="310.0" r="10.1"/>
<circle cx="2732.7" cy="310.0" r="10.1"/>
<circle cx="2799.0" cy="310.0" r="10.1"/>
<circle cx="2821.1" cy="310.0" r="10.1"/>
<circle cx="2843.2" cy="310.0" r="10.1"/>
<circle cx="2865.3" cy="310.0" r="10.1"/>
<circle cx="2887.4" cy="310.0" r="10.1"/>
<circle cx="2931.6" cy="310.0" r="9.95" stroke-width="3.1"/>
<circle cx="2975.8" cy="310.0" r="9.95" stroke-width="3.1"/>
<circle cx="3020.0" cy="310.0" r="9.95" stroke-width="3.1"/>
<circle cx="3130.5" cy="310.0" r="9.95" stroke-width="3.1"/>
<circle cx="3174.7" cy="310.0" r="9.95" stroke-width="3.1"/>
<circle cx="3241.0" cy="310.0" r="9.95" stroke-width="3.1"/>
<circle cx="3373.5" cy="310.0" r="9.95" stroke-width="3.1"/>
<circle cx="1461.1" cy="372.5" r="9.95" stroke-width="3.1"/>
<circle cx="1558.4" cy="372.5" r="9.95" stroke-width="3.1"/>
<circle cx="1607.0" cy="372.5" r="9.95" stroke-width="3.1"/>
<circle cx="1631.3" cy="372.5" r="9.95" stroke-width="3.1"/>
<circle cx="1643.5" cy="372.5" r="9.95" stroke-width="3.1"/>
<circle cx="1655.7" cy="372.5" r="9.95" stroke-width="3.1"/>
<circle cx="1680.0" cy="372.5" r="9.95" stroke-width="3.1"/>
<circle cx="1692.1" cy="372.5" r="9.95" stroke-width="3.1"/>
<circle cx="1704.3" cy="372.5" r="9.95" stroke-width="3.1"/>
<circle cx="1716.5" cy="372.5" r="9.95" stroke-width="3.1"/>
<circle cx="1740.8" cy="372.5" r="9.95" stroke-width="3.1"/>
<circle cx="1752.9" cy="372.5" r="9.95" stroke-width="3.1"/>
<circle cx="1765.1" cy="372.5" r="9.95" stroke-width="3.1"/>
<circle cx="1777.3" cy="372.5" r="9.95" stroke-width="3.1"/>
<circle cx="1801.6" cy="372.5" r="9.95" stroke-width="3.1"/>
<circle cx="1825.9" cy="372.5" r="9.95" stroke-width="3.1"/>
<circle cx="1838.1" cy="372.5" r="9.95" stroke-width="3.1"/>
<circle cx="1862.4" cy="372.5" r="9.95" stroke-width="3.1"/>
<circle cx="1947.5" cy="372.5" r="9.95" stroke-width="3.1"/>
<circle cx="1984.0" cy="372.5" r="10.1"/>
<circle cx="1996.1" cy="372.5" r="10.1"/>
<circle cx="2008.3" cy="372.5" r="10.1"/>
<circle cx="2020.5" cy="372.5" r="10.1"/>
<circle cx="2032.6" cy="372.5" r="10.1"/>
<circle cx="2044.8" cy="372.5" r="10.1"/>
<circle cx="2069.1" cy="372.5" r="10.1"/>
<circle cx="2093.4" cy="372.5" r="10.1"/>
<circle cx="2105.6" cy="372.5" r="10.1"/>
<circle cx="2129.9" cy="372.5" r="10.1"/>
<circle cx="2142.1" cy="372.5" r="10.1"/>
<circle cx="2154.2" cy="372.5" r="10.1"/>
<circle cx="2166.4" cy="372.5" r="10.1"/>
<circle cx="2178.5" cy="372.5" r="10.1"/>
<circle cx="2190.7" cy="372.5" r="10.1"/>
<circle cx="2202.9" cy="372.5" r="10.1"/>
<circle cx="2215.0" cy="372.5" r="10.1"/>
<circle cx="2227.2" cy="372.5" r="10.1"/>
<circle cx="2239.3" cy="372.5" r="10.1"/>
<circle cx="2251.5" cy="372.5" r="10.1"/>
<circle cx="2263.7" cy="372.5" r="10.1"/>
<circle cx="2275.8" cy="372.5" r="10.1"/>
<circle cx="2288.0" cy="372.5" r="10.1"/>
<circle cx="2300.1" cy="372.5" r="10.1"/>
<circle cx="2312.3" cy="372.5" r="10.1"/>
<circle cx="2324.5" cy="372.5" r="10.1"/>
<circle cx="2336.6" cy="372.5" r="10.1"/>
<circle cx="2348.8" cy="372.5" r="10.1"/>
<circle cx="2360.9" cy="372.5" r="10.1"/>
<circle cx="2373.1" cy="372.5" r="10.1"/>
<circle cx="2385.3" cy="372.5" r="10.1"/>
<circle cx="2397.4" cy="372.5" r="10.1"/>
<circle cx="2409.6" cy="372.5" r="10.1"/>
<circle cx="2421.7" cy="372.5" r="10.1"/>
<circle cx="2433.9" cy="372.5" r="10.1"/>
<circle cx="2446.1" cy="372.5" r="10.1"/>
<circle cx="2458.2" cy="372.5" r="10.1"/>
<circle cx="2470.4" cy="372.5" r="10.1"/>
<circle cx="2482.5" cy="372.5" r="10.1"/>
<circle cx="2494.7" cy="372.5" r="10.1"/>
<circle cx="2506.9" cy="372.5" r="10.1"/>
<circle cx="2519.0" cy="372.5" r="10.1"/>
<circle cx="2531.2" cy="372.5" r="10.1"/>
<circle cx="2543.3" cy="372.5" r="10.1"/>
<circle cx="2555.5" cy="372.5" r="10.1"/>
<circle cx="2567.7" cy="372.5" r="10.1"/>
<circle cx="2579.8" cy="372.5" r="10.1"/>
<circle cx="2592.0" cy="372.5" r="10.1"/>
<circle cx="2604.1" cy="372.5" r="10.1"/>
<circle cx="2616.3" cy="372.5" r="10.1"/>
<circle cx="2628.5" cy="372.5" r="10.1"/>
<circle cx="2640.6" cy="372.5" r="10.1"/>
<circle cx="2652.8" cy="372.5" r="10.1"/>
<circle cx="2725.7" cy="372.5" r="10.1"/>
<circle cx="2762.2" cy="372.5" r="10.1"/>
<circle cx="2786.5" cy="372.5" r="10.1"/>
<circle cx="2810.9" cy="372.5" r="10.1"/>
<circle cx="2835.2" cy="372.5" r="10.1"/>
<circle cx="2883.8" cy="372.5" r="10.1"/>
<circle cx="2896.0" cy="372.5" r="10.1"/>
<circle cx="2920.3" cy="372.5" r="10.1"/>
<circle cx="2944.6" cy="372.5" r="9.95" stroke-width="3.1"/>
<circle cx="3005.4" cy="372.5" r="9.95" stroke-width="3.1"/>
<circle cx="3017.6" cy="372.5" r="9.95" stroke-width="3.1"/>
<circle cx="3041.9" cy="372.5" r="9.95" stroke-width="3.1"/>
<circle cx="3054.1" cy="372.5" r="9.95" stroke-width="3.1"/>
<circle cx="3066.2" cy="372.5" r="9.95" stroke-width="3.1"/>
<circle cx="3187.8" cy="372.5" r="9.95" stroke-width="3.1"/>
<circle cx="3236.5" cy="372.5" r="9.95" stroke-width="3.1"/>
<circle cx="1475.3" cy="435.0" r="9.95" stroke-width="3.1"/>
<circle cx="1715.7" cy="435.0" r="9.95" stroke-width="3.1"/>
<circle cx="1755.8" cy="435.0" r="9.95" stroke-width="3.1"/>
<circle cx="1795.9" cy="435.0" r="9.95" stroke-width="3.1"/>
<circle cx="1835.9" cy="435.0" r="9.95" stroke-width="3.1"/>
<circle cx="1916.1" cy="435.0" r="9.95" stroke-width="3.1"/>
<circle cx="1956.1" cy="435.0" r="10.1"/>
<circle cx="1996.2" cy="435.0" r="10.1"/>
<circle cx="2036.3" cy="435.0" r="10.1"/>
<circle cx="2076.3" cy="435.0" r="10.1"/>
<circle cx="2116.4" cy="435.0" r="10.1"/>
<circle cx="2156.5" cy="435.0" r="10.1"/>
<circle cx="2196.6" cy="435.0" r="10.1"/>
<circle cx="2236.6" cy="435.0" r="10.1"/>
<circle cx="2276.7" cy="435.0" r="10.1"/>
<circle cx="2316.8" cy="435.0" r="10.1"/>
<circle cx="2356.8" cy="435.0" r="10.1"/>
<circle cx="2396.9" cy="435.0" r="10.1"/>
<circle cx="2437.0" cy="435.0" r="10.1"/>
<circle cx="2477.1" cy="435.0" r="10.1"/>
<circle cx="2517.1" cy="435.0" r="10.1"/>
<circle cx="2557.2" cy="435.0" r="10.1"/>
<circle cx="2597.3" cy="435.0" r="10.1"/>
<circle cx="2637.3" cy="435.0" r="10.1"/>
<circle cx="2677.4" cy="435.0" r="10.1"/>
<circle cx="2717.5" cy="435.0" r="10.1"/>
<circle cx="2757.5" cy="435.0" r="10.1"/>
<circle cx="2837.7" cy="435.0" r="10.1"/>
<circle cx="2877.8" cy="435.0" r="10.1"/>
<circle cx="2957.9" cy="435.0" r="9.95" stroke-width="3.1"/>
<circle cx="3038.0" cy="435.0" r="9.95" stroke-width="3.1"/>
<circle cx="3078.1" cy="435.0" r="9.95" stroke-width="3.1"/>
<circle cx="3118.2" cy="435.0" r="9.95" stroke-width="3.1"/>
<circle cx="3158.2" cy="435.0" r="9.95" stroke-width="3.1"/>
<circle cx="3358.6" cy="435.0" r="9.95" stroke-width="3.1"/>
<circle cx="1668.3" cy="497.4" r="9.95" stroke-width="3.1"/>
<circle cx="1688.7" cy="497.4" r="9.95" stroke-width="3.1"/>
<circle cx="1709.2" cy="497.4" r="9.95" stroke-width="3.1"/>
<circle cx="1770.5" cy="497.4" r="9.95" stroke-width="3.1"/>
<circle cx="1790.9" cy="497.4" r="9.95" stroke-width="3.1"/>
<circle cx="1811.3" cy="497.4" r="9.95" stroke-width="3.1"/>
<circle cx="1831.7" cy="497.4" r="9.95" stroke-width="3.1"/>
<circle cx="1852.2" cy="497.4" r="9.95" stroke-width="3.1"/>
<circle cx="1913.5" cy="497.4" r="9.95" stroke-width="3.1"/>
<circle cx="1933.9" cy="497.4" r="9.95" stroke-width="3.1"/>
<circle cx="1954.3" cy="497.4" r="10.1"/>
<circle cx="1974.8" cy="497.4" r="10.1"/>
<circle cx="2015.6" cy="497.4" r="10.1"/>
<circle cx="2036.0" cy="497.4" r="10.1"/>
<circle cx="2056.5" cy="497.4" r="10.1"/>
<circle cx="2076.9" cy="497.4" r="10.1"/>
<circle cx="2097.3" cy="497.4" r="10.1"/>
<circle cx="2117.8" cy="497.4" r="10.1"/>
<circle cx="2138.2" cy="497.4" r="10.1"/>
<circle cx="2158.6" cy="497.4" r="10.1"/>
<circle cx="2179.1" cy="497.4" r="10.1"/>
<circle cx="2199.5" cy="497.4" r="10.1"/>
<circle cx="2219.9" cy="497.4" r="10.1"/>
<circle cx="2240.3" cy="497.4" r="10.1"/>
<circle cx="2260.8" cy="497.4" r="10.1"/>
<circle cx="2281.2" cy="497.4" r="10.1"/>
<circle cx="2301.6" cy="497.4" r="10.1"/>
<circle cx="2322.1" cy="497.4" r="10.1"/>
<circle cx="2342.5" cy="497.4" r="10.1"/>
<circle cx="2362.9" cy="497.4" r="10.1"/>
<circle cx="2383.3" cy="497.4" r="10.1"/>
<circle cx="2403.8" cy="497.4" r="10.1"/>
<circle cx="2424.2" cy="497.4" r="10.1"/>
<circle cx="2444.6" cy="497.4" r="10.1"/>
<circle cx="2465.1" cy="497.4" r="10.1"/>
<circle cx="2485.5" cy="497.4" r="10.1"/>
<circle cx="2505.9" cy="497.4" r="10.1"/>
<circle cx="2526.4" cy="497.4" r="10.1"/>
<circle cx="2546.8" cy="497.4" r="10.1"/>
<circle cx="2567.2" cy="497.4" r="10.1"/>
<circle cx="2587.7" cy="497.4" r="10.1"/>
<circle cx="2608.1" cy="497.4" r="10.1"/>
<circle cx="2628.5" cy="497.4" r="10.1"/>
<circle cx="2648.9" cy="497.4" r="10.1"/>
<circle cx="2669.4" cy="497.4" r="10.1"/>
<circle cx="2689.8" cy="497.4" r="10.1"/>
<circle cx="2710.2" cy="497.4" r="10.1"/>
<circle cx="2730.7" cy="497.4" r="10.1"/>
<circle cx="2751.1" cy="497.4" r="10.1"/>
<circle cx="2771.5" cy="497.4" r="10.1"/>
<circle cx="2791.9" cy="497.4" r="10.1"/>
<circle cx="2812.4" cy="497.4" r="10.1"/>
<circle cx="2832.8" cy="497.4" r="10.1"/>
<circle cx="2873.7" cy="497.4" r="10.1"/>
<circle cx="2894.1" cy="497.4" r="10.1"/>
<circle cx="2914.5" cy="497.4" r="10.1"/>
<circle cx="2935.0" cy="497.4" r="9.95" stroke-width="3.1"/>
<circle cx="2955.4" cy="497.4" r="9.95" stroke-width="3.1"/>
<circle cx="2975.8" cy="497.4" r="9.95" stroke-width="3.1"/>
<circle cx="3016.7" cy="497.4" r="9.95" stroke-width="3.1"/>
<circle cx="3466.1" cy="497.4" r="9.95" stroke-width="3.1"/>
<circle cx="1410.0" cy="559.9" r="9.95" stroke-width="3.1"/>
<circle cx="1451.2" cy="559.9" r="9.95" stroke-width="3.1"/>
<circle cx="1471.7" cy="559.9" r="9.95" stroke-width="3.1"/>
<circle cx="1512.9" cy="559.9" r="9.95" stroke-width="3.1"/>
<circle cx="1533.5" cy="559.9" r="9.95" stroke-width="3.1"/>
<circle cx="1595.2" cy="559.9" r="9.95" stroke-width="3.1"/>
<circle cx="1615.8" cy="559.9" r="9.95" stroke-width="3.1"/>
<circle cx="1739.2" cy="559.9" r="9.95" stroke-width="3.1"/>
<circle cx="1759.8" cy="559.9" r="9.95" stroke-width="3.1"/>
<circle cx="1780.3" cy="559.9" r="9.95" stroke-width="3.1"/>
<circle cx="1800.9" cy="559.9" r="9.95" stroke-width="3.1"/>
<circle cx="1821.5" cy="559.9" r="9.95" stroke-width="3.1"/>
<circle cx="1842.1" cy="559.9" r="9.95" stroke-width="3.1"/>
<circle cx="1862.7" cy="559.9" r="9.95" stroke-width="3.1"/>
<circle cx="1883.2" cy="559.9" r="9.95" stroke-width="3.1"/>
<circle cx="1903.8" cy="559.9" r="9.95" stroke-width="3.1"/>
<circle cx="1924.4" cy="559.9" r="9.95" stroke-width="3.1"/>
<circle cx="1944.9" cy="559.9" r="9.95" stroke-width="3.1"/>
<circle cx="1965.5" cy="559.9" r="10.1"/>
<circle cx="1986.1" cy="559.9" r="10.1"/>
<circle cx="2006.7" cy="559.9" r="10.1"/>
<circle cx="2027.2" cy="559.9" r="10.1"/>
<circle cx="2047.8" cy="559.9" r="10.1"/>
<circle cx="2068.4" cy="559.9" r="10.1"/>
<circle cx="2089.0" cy="559.9" r="10.1"/>
<circle cx="2109.6" cy="559.9" r="10.1"/>
<circle cx="2130.1" cy="559.9" r="10.1"/>
<circle cx="2150.7" cy="559.9" r="10.1"/>
<circle cx="2171.3" cy="559.9" r="10.1"/>
<circle cx="2191.8" cy="559.9" r="10.1"/>
<circle cx="2212.4" cy="559.9" r="10.1"/>
<circle cx="2233.0" cy="559.9" r="10.1"/>
<circle cx="2253.6" cy="559.9" r="10.1"/>
<circle cx="2274.2" cy="559.9" r="10.1"/>
<circle cx="2294.7" cy="559.9" r="10.1"/>
<circle cx="2315.3" cy="559.9" r="10.1"/>
<circle cx="2335.9" cy="559.9" r="10.1"/>
<circle cx="2356.4" cy="559.9" r="10.1"/>
<circle cx="2377.0" cy="559.9" r="10.1"/>
<circle cx="2397.6" cy="559.9" r="10.1"/>
<circle cx="2418.2" cy="559.9" r="10.1"/>
<circle cx="2438.8" cy="559.9" r="10.1"/>
<circle cx="2459.3" cy="559.9" r="10.1"/>
<circle cx="2479.9" cy="559.9" r="10.1"/>
<circle cx="2500.5" cy="559.9" r="10.1"/>
<circle cx="2521.1" cy="559.9" r="10.1"/>
<circle cx="2541.6" cy="559.9" r="10.1"/>
<circle cx="2562.2" cy="559.9" r="10.1"/>
<circle cx="2582.8" cy="559.9" r="10.1"/>
<circle cx="2603.3" cy="559.9" r="10.1"/>
<circle cx="2623.9" cy="559.9" r="10.1"/>
<circle cx="2644.5" cy="559.9" r="10.1"/>
<circle cx="2665.1" cy="559.9" r="10.1"/>
<circle cx="2685.6" cy="559.9" r="10.1"/>
<circle cx="2706.2" cy="559.9" r="10.1"/>
<circle cx="2726.8" cy="559.9" r="10.1"/>
<circle cx="2747.4" cy="559.9" r="10.1"/>
<circle cx="2788.5" cy="559.9" r="10.1"/>
<circle cx="2829.7" cy="559.9" r="10.1"/>
<circle cx="2850.2" cy="559.9" r="10.1"/>
<circle cx="2912.0" cy="559.9" r="10.1"/>
<circle cx="2953.1" cy="559.9" r="9.95" stroke-width="3.1"/>
<circle cx="2973.7" cy="559.9" r="9.95" stroke-width="3.1"/>
<circle cx="2994.3" cy="559.9" r="9.95" stroke-width="3.1"/>
<circle cx="3014.8" cy="559.9" r="9.95" stroke-width="3.1"/>
<circle cx="3282.3" cy="559.9" r="9.95" stroke-width="3.1"/>
<circle cx="1486.0" cy="622.3" r="9.95" stroke-width="3.1"/>
<circle cx="1554.0" cy="622.3" r="9.95" stroke-width="3.1"/>
<circle cx="1622.0" cy="622.3" r="9.95" stroke-width="3.1"/>
<circle cx="1690.0" cy="622.3" r="9.95" stroke-width="3.1"/>
<circle cx="1826.0" cy="622.3" r="9.95" stroke-width="3.1"/>
<circle cx="1894.0" cy="622.3" r="9.95" stroke-width="3.1"/>
<circle cx="1962.0" cy="622.3" r="10.1"/>
<circle cx="2030.0" cy="622.3" r="10.1"/>
<circle cx="2098.0" cy="622.3" r="10.1"/>
<circle cx="2166.0" cy="622.3" r="10.1"/>
<circle cx="2234.0" cy="622.3" r="10.1"/>
<circle cx="2302.0" cy="622.3" r="10.1"/>
<circle cx="2370.0" cy="622.3" r="10.1"/>
<circle cx="2438.0" cy="622.3" r="10.1"/>
<circle cx="2506.0" cy="622.3" r="10.1"/>
<circle cx="2574.0" cy="622.3" r="10.1"/>
<circle cx="2642.0" cy="622.3" r="10.1"/>
<circle cx="2710.0" cy="622.3" r="10.1"/>
<circle cx="2778.0" cy="622.3" r="10.1"/>
<circle cx="2846.0" cy="622.3" r="10.1"/>
<circle cx="2914.0" cy="622.3" r="10.1"/>
<circle cx="2982.0" cy="622.3" r="9.95" stroke-width="3.1"/>
<circle cx="3050.0" cy="622.3" r="9.95" stroke-width="3.1"/>
<circle cx="3186.0" cy="622.3" r="9.95" stroke-width="3.1"/>
<circle cx="1452.0" cy="684.8" r="9.95" stroke-width="3.1"/>
<circle cx="1531.4" cy="684.8" r="9.95" stroke-width="3.1"/>
<circle cx="1584.3" cy="684.8" r="9.95" stroke-width="3.1"/>
<circle cx="1610.8" cy="684.8" r="9.95" stroke-width="3.1"/>
<circle cx="1637.3" cy="684.8" r="9.95" stroke-width="3.1"/>
<circle cx="1690.2" cy="684.8" r="9.95" stroke-width="3.1"/>
<circle cx="1716.7" cy="684.8" r="9.95" stroke-width="3.1"/>
<circle cx="1743.2" cy="684.8" r="9.95" stroke-width="3.1"/>
<circle cx="1769.6" cy="684.8" r="9.95" stroke-width="3.1"/>
<circle cx="1796.1" cy="684.8" r="9.95" stroke-width="3.1"/>
<circle cx="1822.6" cy="684.8" r="9.95" stroke-width="3.1"/>
<circle cx="1849.0" cy="684.8" r="9.95" stroke-width="3.1"/>
<circle cx="1875.5" cy="684.8" r="9.95" stroke-width="3.1"/>
<circle cx="1902.0" cy="684.8" r="9.95" stroke-width="3.1"/>
<circle cx="1954.9" cy="684.8" r="10.1"/>
<circle cx="1981.4" cy="684.8" r="10.1"/>
<circle cx="2007.9" cy="684.8" r="10.1"/>
<circle cx="2034.3" cy="684.8" r="10.1"/>
<circle cx="2060.8" cy="684.8" r="10.1"/>
<circle cx="2087.3" cy="684.8" r="10.1"/>
<circle cx="2113.8" cy="684.8" r="10.1"/>
<circle cx="2140.2" cy="684.8" r="10.1"/>
<circle cx="2166.7" cy="684.8" r="10.1"/>
<circle cx="2193.2" cy="684.8" r="10.1"/>
<circle cx="2219.6" cy="684.8" r="10.1"/>
<circle cx="2246.1" cy="684.8" r="10.1"/>
<circle cx="2272.6" cy="684.8" r="10.1"/>
<circle cx="2299.0" cy="684.8" r="10.1"/>
<circle cx="2325.5" cy="684.8" r="10.1"/>
<circle cx="2352.0" cy="684.8" r="10.1"/>
<circle cx="2378.4" cy="684.8" r="10.1"/>
<circle cx="2404.9" cy="684.8" r="10.1"/>
<circle cx="2431.4" cy="684.8" r="10.1"/>
<circle cx="2457.9" cy="684.8" r="10.1"/>
<circle cx="2484.3" cy="684.8" r="10.1"/>
<circle cx="2510.8" cy="684.8" r="10.1"/>
<circle cx="2537.3" cy="684.8" r="10.1"/>
<circle cx="2563.7" cy="684.8" r="10.1"/>
<circle cx="2590.2" cy="684.8" r="10.1"/>
<circle cx="2616.7" cy="684.8" r="10.1"/>
<circle cx="2643.1" cy="684.8" r="10.1"/>
<circle cx="2669.6" cy="684.8" r="10.1"/>
<circle cx="2696.1" cy="684.8" r="10.1"/>
<circle cx="2722.6" cy="684.8" r="10.1"/>
<circle cx="2749.0" cy="684.8" r="10.1"/>
<circle cx="2775.5" cy="684.8" r="10.1"/>
<circle cx="2802.0" cy="684.8" r="10.1"/>
<circle cx="2828.4" cy="684.8" r="10.1"/>
<circle cx="2854.9" cy="684.8" r="10.1"/>
<circle cx="2934.3" cy="684.8" r="9.95" stroke-width="3.1"/>
<circle cx="2960.8" cy="684.8" r="9.95" stroke-width="3.1"/>
<circle cx="3013.7" cy="684.8" r="9.95" stroke-width="3.1"/>
<circle cx="3093.1" cy="684.8" r="9.95" stroke-width="3.1"/>
<circle cx="3199.0" cy="684.8" r="9.95" stroke-width="3.1"/>
<circle cx="3225.5" cy="684.8" r="9.95" stroke-width="3.1"/>
<circle cx="1514.0" cy="747.3" r="9.95" stroke-width="3.1"/>
<circle cx="1614.2" cy="747.3" r="9.95" stroke-width="3.1"/>
<circle cx="1714.4" cy="747.3" r="9.95" stroke-width="3.1"/>
<circle cx="1814.6" cy="747.3" r="9.95" stroke-width="3.1"/>
<circle cx="1914.8" cy="747.3" r="9.95" stroke-width="3.1"/>
<circle cx="2015.0" cy="747.3" r="10.1"/>
<circle cx="2115.2" cy="747.3" r="10.1"/>
<circle cx="2215.4" cy="747.3" r="10.1"/>
<circle cx="2315.6" cy="747.3" r="10.1"/>
<circle cx="2415.8" cy="747.3" r="10.1"/>
<circle cx="2516.0" cy="747.3" r="10.1"/>
<circle cx="2616.2" cy="747.3" r="10.1"/>
<circle cx="2716.4" cy="747.3" r="10.1"/>
<circle cx="2816.6" cy="747.3" r="10.1"/>
<circle cx="2916.8" cy="747.3" r="10.1"/>
<circle cx="3017.0" cy="747.3" r="9.95" stroke-width="3.1"/>
<circle cx="3117.2" cy="747.3" r="9.95" stroke-width="3.1"/>
<circle cx="3217.4" cy="747.3" r="9.95" stroke-width="3.1"/>
<circle cx="3417.8" cy="747.3" r="9.95" stroke-width="3.1"/>
<circle cx="1979.0" cy="809.7" r="10.1"/>
<circle cx="2147.5" cy="809.7" r="10.1"/>
<circle cx="2316.0" cy="809.7" r="10.1"/>
<circle cx="2484.5" cy="809.7" r="10.1"/>
<circle cx="2653.0" cy="809.7" r="10.1"/>
<circle cx="2821.5" cy="809.7" r="10.1"/>
<circle cx="2990.0" cy="809.7" r="9.95" stroke-width="3.1"/>
<circle cx="3158.5" cy="809.7" r="9.95" stroke-width="3.1"/>
<circle cx="3327.0" cy="809.7" r="9.95" stroke-width="3.1"/>
<circle cx="1627.5" cy="872.2" r="9.95" stroke-width="3.1"/>
<circle cx="1715.7" cy="872.2" r="9.95" stroke-width="3.1"/>
<circle cx="1730.4" cy="872.2" r="9.95" stroke-width="3.1"/>
<circle cx="1745.1" cy="872.2" r="9.95" stroke-width="3.1"/>
<circle cx="1759.8" cy="872.2" r="9.95" stroke-width="3.1"/>
<circle cx="1774.5" cy="872.2" r="9.95" stroke-width="3.1"/>
<circle cx="1804.0" cy="872.2" r="9.95" stroke-width="3.1"/>
<circle cx="1818.7" cy="872.2" r="9.95" stroke-width="3.1"/>
<circle cx="1833.4" cy="872.2" r="9.95" stroke-width="3.1"/>
<circle cx="1848.1" cy="872.2" r="9.95" stroke-width="3.1"/>
<circle cx="1862.8" cy="872.2" r="9.95" stroke-width="3.1"/>
<circle cx="1877.5" cy="872.2" r="9.95" stroke-width="3.1"/>
<circle cx="1892.2" cy="872.2" r="9.95" stroke-width="3.1"/>
<circle cx="1906.9" cy="872.2" r="9.95" stroke-width="3.1"/>
<circle cx="1936.3" cy="872.2" r="9.95" stroke-width="3.1"/>
<circle cx="1951.0" cy="872.2" r="10.1"/>
<circle cx="1965.7" cy="872.2" r="10.1"/>
<circle cx="1980.4" cy="872.2" r="10.1"/>
<circle cx="1995.1" cy="872.2" r="10.1"/>
<circle cx="2009.8" cy="872.2" r="10.1"/>
<circle cx="2024.5" cy="872.2" r="10.1"/>
<circle cx="2039.2" cy="872.2" r="10.1"/>
<circle cx="2053.9" cy="872.2" r="10.1"/>
<circle cx="2068.7" cy="872.2" r="10.1"/>
<circle cx="2083.4" cy="872.2" r="10.1"/>
<circle cx="2098.1" cy="872.2" r="10.1"/>
<circle cx="2112.8" cy="872.2" r="10.1"/>
<circle cx="2127.5" cy="872.2" r="10.1"/>
<circle cx="2142.2" cy="872.2" r="10.1"/>
<circle cx="2156.9" cy="872.2" r="10.1"/>
<circle cx="2171.6" cy="872.2" r="10.1"/>
<circle cx="2186.3" cy="872.2" r="10.1"/>
<circle cx="2201.0" cy="872.2" r="10.1"/>
<circle cx="2215.7" cy="872.2" r="10.1"/>
<circle cx="2230.4" cy="872.2" r="10.1"/>
<circle cx="2245.1" cy="872.2" r="10.1"/>
<circle cx="2259.8" cy="872.2" r="10.1"/>
<circle cx="2274.5" cy="872.2" r="10.1"/>
<circle cx="2289.2" cy="872.2" r="10.1"/>
<circle cx="2303.9" cy="872.2" r="10.1"/>
<circle cx="2318.6" cy="872.2" r="10.1"/>
<circle cx="2333.3" cy="872.2" r="10.1"/>
<circle cx="2348.0" cy="872.2" r="10.1"/>
<circle cx="2362.8" cy="872.2" r="10.1"/>
<circle cx="2377.5" cy="872.2" r="10.1"/>
<circle cx="2392.2" cy="872.2" r="10.1"/>
<circle cx="2406.9" cy="872.2" r="10.1"/>
<circle cx="2421.6" cy="872.2" r="10.1"/>
<circle cx="2436.3" cy="872.2" r="10.1"/>
<circle cx="2451.0" cy="872.2" r="10.1"/>
<circle cx="2480.4" cy="872.2" r="10.1"/>
<circle cx="2495.1" cy="872.2" r="10.1"/>
<circle cx="2509.8" cy="872.2" r="10.1"/>
<circle cx="2524.5" cy="872.2" r="10.1"/>
<circle cx="2539.2" cy="872.2" r="10.1"/>
<circle cx="2553.9" cy="872.2" r="10.1"/>
<circle cx="2568.6" cy="872.2" r="10.1"/>
<circle cx="2583.3" cy="872.2" r="10.1"/>
<circle cx="2598.0" cy="872.2" r="10.1"/>
<circle cx="2612.7" cy="872.2" r="10.1"/>
<circle cx="2627.4" cy="872.2" r="10.1"/>
<circle cx="2642.1" cy="872.2" r="10.1"/>
<circle cx="2656.8" cy="872.2" r="10.1"/>
<circle cx="2671.6" cy="872.2" r="10.1"/>
<circle cx="2686.3" cy="872.2" r="10.1"/>
<circle cx="2701.0" cy="872.2" r="10.1"/>
<circle cx="2730.4" cy="872.2" r="10.1"/>
<circle cx="2745.1" cy="872.2" r="10.1"/>
<circle cx="2759.8" cy="872.2" r="10.1"/>
<circle cx="2789.2" cy="872.2" r="10.1"/>
<circle cx="3024.5" cy="872.2" r="9.95" stroke-width="3.1"/>
<circle cx="3098.0" cy="872.2" r="9.95" stroke-width="3.1"/>
<circle cx="3362.7" cy="872.2" r="9.95" stroke-width="3.1"/>
<circle cx="1443.5" cy="934.6" r="9.95" stroke-width="3.1"/>
<circle cx="1498.9" cy="934.6" r="9.95" stroke-width="3.1"/>
<circle cx="1554.3" cy="934.6" r="9.95" stroke-width="3.1"/>
<circle cx="1609.7" cy="934.6" r="9.95" stroke-width="3.1"/>
<circle cx="1665.1" cy="934.6" r="9.95" stroke-width="3.1"/>
<circle cx="1720.5" cy="934.6" r="9.95" stroke-width="3.1"/>
<circle cx="1775.9" cy="934.6" r="9.95" stroke-width="3.1"/>
<circle cx="1831.3" cy="934.6" r="9.95" stroke-width="3.1"/>
<circle cx="1886.7" cy="934.6" r="9.95" stroke-width="3.1"/>
<circle cx="1942.1" cy="934.6" r="9.95" stroke-width="3.1"/>
<circle cx="1997.5" cy="934.6" r="10.1"/>
<circle cx="2052.9" cy="934.6" r="10.1"/>
<circle cx="2108.3" cy="934.6" r="10.1"/>
<circle cx="2163.7" cy="934.6" r="10.1"/>
<circle cx="2219.1" cy="934.6" r="10.1"/>
<circle cx="2274.5" cy="934.6" r="10.1"/>
<circle cx="2329.9" cy="934.6" r="10.1"/>
<circle cx="2385.3" cy="934.6" r="10.1"/>
<circle cx="2440.7" cy="934.6" r="10.1"/>
<circle cx="2496.1" cy="934.6" r="10.1"/>
<circle cx="2551.5" cy="934.6" r="10.1"/>
<circle cx="2606.9" cy="934.6" r="10.1"/>
<circle cx="2662.3" cy="934.6" r="10.1"/>
<circle cx="2717.7" cy="934.6" r="10.1"/>
<circle cx="2773.1" cy="934.6" r="10.1"/>
<circle cx="2828.5" cy="934.6" r="10.1"/>
<circle cx="2883.9" cy="934.6" r="10.1"/>
<circle cx="2939.3" cy="934.6" r="9.95" stroke-width="3.1"/>
<circle cx="3050.1" cy="934.6" r="9.95" stroke-width="3.1"/>
<circle cx="1500.0" cy="997.1" r="9.95" stroke-width="3.1"/>
<circle cx="1520.7" cy="997.1" r="9.95" stroke-width="3.1"/>
<circle cx="1541.3" cy="997.1" r="9.95" stroke-width="3.1"/>
<circle cx="1582.7" cy="997.1" r="9.95" stroke-width="3.1"/>
<circle cx="1686.1" cy="997.1" r="9.95" stroke-width="3.1"/>
<circle cx="1727.4" cy="997.1" r="9.95" stroke-width="3.1"/>
<circle cx="1748.1" cy="997.1" r="9.95" stroke-width="3.1"/>
<circle cx="1768.8" cy="997.1" r="9.95" stroke-width="3.1"/>
<circle cx="1810.1" cy="997.1" r="9.95" stroke-width="3.1"/>
<circle cx="1830.8" cy="997.1" r="9.95" stroke-width="3.1"/>
<circle cx="1872.2" cy="997.1" r="9.95" stroke-width="3.1"/>
<circle cx="1892.8" cy="997.1" r="9.95" stroke-width="3.1"/>
<circle cx="1913.5" cy="997.1" r="9.95" stroke-width="3.1"/>
<circle cx="1934.2" cy="997.1" r="9.95" stroke-width="3.1"/>
<circle cx="1954.8" cy="997.1" r="10.1"/>
<circle cx="1975.5" cy="997.1" r="10.1"/>
<circle cx="1996.2" cy="997.1" r="10.1"/>
<circle cx="2016.9" cy="997.1" r="10.1"/>
<circle cx="2037.6" cy="997.1" r="10.1"/>
<circle cx="2058.2" cy="997.1" r="10.1"/>
<circle cx="2078.9" cy="997.1" r="10.1"/>
<circle cx="2099.6" cy="997.1" r="10.1"/>
<circle cx="2120.2" cy="997.1" r="10.1"/>
<circle cx="2140.9" cy="997.1" r="10.1"/>
<circle cx="2161.6" cy="997.1" r="10.1"/>
<circle cx="2182.3" cy="997.1" r="10.1"/>
<circle cx="2202.9" cy="997.1" r="10.1"/>
<circle cx="2223.6" cy="997.1" r="10.1"/>
<circle cx="2244.3" cy="997.1" r="10.1"/>
<circle cx="2265.0" cy="997.1" r="10.1"/>
<circle cx="2285.7" cy="997.1" r="10.1"/>
<circle cx="2306.3" cy="997.1" r="10.1"/>
<circle cx="2327.0" cy="997.1" r="10.1"/>
<circle cx="2347.7" cy="997.1" r="10.1"/>
<circle cx="2368.3" cy="997.1" r="10.1"/>
<circle cx="2389.0" cy="997.1" r="10.1"/>
<circle cx="2409.7" cy="997.1" r="10.1"/>
<circle cx="2430.4" cy="997.1" r="10.1"/>
<circle cx="2451.1" cy="997.1" r="10.1"/>
<circle cx="2471.7" cy="997.1" r="10.1"/>
<circle cx="2492.4" cy="997.1" r="10.1"/>
<circle cx="2513.1" cy="997.1" r="10.1"/>
<circle cx="2533.8" cy="997.1" r="10.1"/>
<circle cx="2554.4" cy="997.1" r="10.1"/>
<circle cx="2575.1" cy="997.1" r="10.1"/>
<circle cx="2595.8" cy="997.1" r="10.1"/>
<circle cx="2616.4" cy="997.1" r="10.1"/>
<circle cx="2637.1" cy="997.1" r="10.1"/>
<circle cx="2657.8" cy="997.1" r="10.1"/>
<circle cx="2678.5" cy="997.1" r="10.1"/>
<circle cx="2699.2" cy="997.1" r="10.1"/>
<circle cx="2719.8" cy="997.1" r="10.1"/>
<circle cx="2740.5" cy="997.1" r="10.1"/>
<circle cx="2761.2" cy="997.1" r="10.1"/>
<circle cx="2781.9" cy="997.1" r="10.1"/>
<circle cx="2802.5" cy="997.1" r="10.1"/>
<circle cx="2823.2" cy="997.1" r="10.1"/>
<circle cx="2843.9" cy="997.1" r="10.1"/>
<circle cx="2926.6" cy="997.1" r="10.1"/>
<circle cx="2988.6" cy="997.1" r="9.95" stroke-width="3.1"/>
<circle cx="3029.9" cy="997.1" r="9.95" stroke-width="3.1"/>
<circle cx="3050.6" cy="997.1" r="9.95" stroke-width="3.1"/>
<circle cx="3216.0" cy="997.1" r="9.95" stroke-width="3.1"/>
<circle cx="3319.4" cy="997.1" r="9.95" stroke-width="3.1"/>
<circle cx="1426.0" cy="1059.6" r="9.95" stroke-width="3.1"/>
<circle cx="1521.2" cy="1059.6" r="9.95" stroke-width="3.1"/>
<circle cx="1616.4" cy="1059.6" r="9.95" stroke-width="3.1"/>
<circle cx="1664.0" cy="1059.6" r="9.95" stroke-width="3.1"/>
<circle cx="1711.6" cy="1059.6" r="9.95" stroke-width="3.1"/>
<circle cx="1759.2" cy="1059.6" r="9.95" stroke-width="3.1"/>
<circle cx="1806.8" cy="1059.6" r="9.95" stroke-width="3.1"/>
<circle cx="1854.4" cy="1059.6" r="9.95" stroke-width="3.1"/>
<circle cx="1902.0" cy="1059.6" r="9.95" stroke-width="3.1"/>
<circle cx="1949.6" cy="1059.6" r="10.1"/>
<circle cx="1997.2" cy="1059.6" r="10.1"/>
<circle cx="2044.8" cy="1059.6" r="10.1"/>
<circle cx="2092.4" cy="1059.6" r="10.1"/>
<circle cx="2140.0" cy="1059.6" r="10.1"/>
<circle cx="2187.6" cy="1059.6" r="10.1"/>
<circle cx="2235.2" cy="1059.6" r="10.1"/>
<circle cx="2282.8" cy="1059.6" r="10.1"/>
<circle cx="2330.4" cy="1059.6" r="10.1"/>
<circle cx="2378.0" cy="1059.6" r="10.1"/>
<circle cx="2425.6" cy="1059.6" r="10.1"/>
<circle cx="2473.2" cy="1059.6" r="10.1"/>
<circle cx="2520.8" cy="1059.6" r="10.1"/>
<circle cx="2568.4" cy="1059.6" r="10.1"/>
<circle cx="2616.0" cy="1059.6" r="10.1"/>
<circle cx="2663.6" cy="1059.6" r="10.1"/>
<circle cx="2711.2" cy="1059.6" r="10.1"/>
<circle cx="2758.8" cy="1059.6" r="10.1"/>
<circle cx="2806.4" cy="1059.6" r="10.1"/>
<circle cx="2854.0" cy="1059.6" r="10.1"/>
<circle cx="2949.2" cy="1059.6" r="9.95" stroke-width="3.1"/>
<circle cx="2996.8" cy="1059.6" r="9.95" stroke-width="3.1"/>
<circle cx="3092.0" cy="1059.6" r="9.95" stroke-width="3.1"/>
<circle cx="3139.6" cy="1059.6" r="9.95" stroke-width="3.1"/>
<circle cx="3472.8" cy="1059.6" r="9.95" stroke-width="3.1"/>
<circle cx="1410.5" cy="1122.0" r="9.95" stroke-width="3.1"/>
<circle cx="1496.3" cy="1122.0" r="9.95" stroke-width="3.1"/>
<circle cx="1539.3" cy="1122.0" r="9.95" stroke-width="3.1"/>
<circle cx="1582.2" cy="1122.0" r="9.95" stroke-width="3.1"/>
<circle cx="1625.1" cy="1122.0" r="9.95" stroke-width="3.1"/>
<circle cx="1668.0" cy="1122.0" r="9.95" stroke-width="3.1"/>
<circle cx="1710.9" cy="1122.0" r="9.95" stroke-width="3.1"/>
<circle cx="1753.9" cy="1122.0" r="9.95" stroke-width="3.1"/>
<circle cx="1796.8" cy="1122.0" r="9.95" stroke-width="3.1"/>
<circle cx="1839.7" cy="1122.0" r="9.95" stroke-width="3.1"/>
<circle cx="1882.6" cy="1122.0" r="9.95" stroke-width="3.1"/>
<circle cx="1925.5" cy="1122.0" r="9.95" stroke-width="3.1"/>
<circle cx="1968.5" cy="1122.0" r="10.1"/>
<circle cx="2011.4" cy="1122.0" r="10.1"/>
<circle cx="2054.3" cy="1122.0" r="10.1"/>
<circle cx="2097.2" cy="1122.0" r="10.1"/>
<circle cx="2140.1" cy="1122.0" r="10.1"/>
<circle cx="2183.1" cy="1122.0" r="10.1"/>
<circle cx="2226.0" cy="1122.0" r="10.1"/>
<circle cx="2268.9" cy="1122.0" r="10.1"/>
<circle cx="2311.8" cy="1122.0" r="10.1"/>
<circle cx="2354.7" cy="1122.0" r="10.1"/>
<circle cx="2397.7" cy="1122.0" r="10.1"/>
<circle cx="2440.6" cy="1122.0" r="10.1"/>
<circle cx="2483.5" cy="1122.0" r="10.1"/>
<circle cx="2526.4" cy="1122.0" r="10.1"/>
<circle cx="2569.3" cy="1122.0" r="10.1"/>
<circle cx="2612.3" cy="1122.0" r="10.1"/>
<circle cx="2655.2" cy="1122.0" r="10.1"/>
<circle cx="2698.1" cy="1122.0" r="10.1"/>
<circle cx="2741.0" cy="1122.0" r="10.1"/>
<circle cx="2783.9" cy="1122.0" r="10.1"/>
<circle cx="2826.9" cy="1122.0" r="10.1"/>
<circle cx="2869.8" cy="1122.0" r="10.1"/>
<circle cx="2912.7" cy="1122.0" r="10.1"/>
<circle cx="2955.6" cy="1122.0" r="9.95" stroke-width="3.1"/>
<circle cx="2998.5" cy="1122.0" r="9.95" stroke-width="3.1"/>
<circle cx="3041.5" cy="1122.0" r="9.95" stroke-width="3.1"/>
<circle cx="3341.9" cy="1122.0" r="9.95" stroke-width="3.1"/>
<circle cx="3384.8" cy="1122.0" r="9.95" stroke-width="3.1"/>
<circle cx="1500.5" cy="1184.5" r="9.95" stroke-width="3.1"/>
<circle cx="1592.0" cy="1184.5" r="9.95" stroke-width="3.1"/>
<circle cx="1683.4" cy="1184.5" r="9.95" stroke-width="3.1"/>
<circle cx="1774.8" cy="1184.5" r="9.95" stroke-width="3.1"/>
<circle cx="1866.3" cy="1184.5" r="9.95" stroke-width="3.1"/>
<circle cx="1957.8" cy="1184.5" r="10.1"/>
<circle cx="2049.2" cy="1184.5" r="10.1"/>
<circle cx="2140.7" cy="1184.5" r="10.1"/>
<circle cx="2232.1" cy="1184.5" r="10.1"/>
<circle cx="2323.6" cy="1184.5" r="10.1"/>
<circle cx="2415.0" cy="1184.5" r="10.1"/>
<circle cx="2506.4" cy="1184.5" r="10.1"/>
<circle cx="2597.9" cy="1184.5" r="10.1"/>
<circle cx="2689.4" cy="1184.5" r="10.1"/>
<circle cx="2780.8" cy="1184.5" r="10.1"/>
<circle cx="2872.2" cy="1184.5" r="10.1"/>
<circle cx="2963.7" cy="1184.5" r="9.95" stroke-width="3.1"/>
<circle cx="3055.2" cy="1184.5" r="9.95" stroke-width="3.1"/>
<circle cx="3146.6" cy="1184.5" r="9.95" stroke-width="3.1"/>
<circle cx="3238.1" cy="1184.5" r="9.95" stroke-width="3.1"/>
<circle cx="1425.0" cy="1246.9" r="9.95" stroke-width="3.1"/>
<circle cx="1494.3" cy="1246.9" r="9.95" stroke-width="3.1"/>
<circle cx="1563.7" cy="1246.9" r="9.95" stroke-width="3.1"/>
<circle cx="1633.0" cy="1246.9" r="9.95" stroke-width="3.1"/>
<circle cx="1702.4" cy="1246.9" r="9.95" stroke-width="3.1"/>
<circle cx="1771.8" cy="1246.9" r="9.95" stroke-width="3.1"/>
<circle cx="1841.1" cy="1246.9" r="9.95" stroke-width="3.1"/>
<circle cx="1910.4" cy="1246.9" r="9.95" stroke-width="3.1"/>
<circle cx="1979.8" cy="1246.9" r="10.1"/>
<circle cx="2049.2" cy="1246.9" r="10.1"/>
<circle cx="2118.5" cy="1246.9" r="10.1"/>
<circle cx="2187.8" cy="1246.9" r="10.1"/>
<circle cx="2257.2" cy="1246.9" r="10.1"/>
<circle cx="2326.6" cy="1246.9" r="10.1"/>
<circle cx="2395.9" cy="1246.9" r="10.1"/>
<circle cx="2465.2" cy="1246.9" r="10.1"/>
<circle cx="2534.6" cy="1246.9" r="10.1"/>
<circle cx="2603.9" cy="1246.9" r="10.1"/>
<circle cx="2673.3" cy="1246.9" r="10.1"/>
<circle cx="2742.6" cy="1246.9" r="10.1"/>
<circle cx="2812.0" cy="1246.9" r="10.1"/>
<circle cx="2881.3" cy="1246.9" r="10.1"/>
<circle cx="2950.7" cy="1246.9" r="9.95" stroke-width="3.1"/>
<circle cx="3089.4" cy="1246.9" r="9.95" stroke-width="3.1"/>
<circle cx="3228.1" cy="1246.9" r="9.95" stroke-width="3.1"/>
<circle cx="1497.5" cy="1371.9" r="9.95" stroke-width="3.1"/>
<circle cx="1613.8" cy="1371.9" r="9.95" stroke-width="3.1"/>
<circle cx="1691.2" cy="1371.9" r="9.95" stroke-width="3.1"/>
<circle cx="1730.0" cy="1371.9" r="9.95" stroke-width="3.1"/>
<circle cx="1768.8" cy="1371.9" r="9.95" stroke-width="3.1"/>
<circle cx="1807.5" cy="1371.9" r="9.95" stroke-width="3.1"/>
<circle cx="1846.2" cy="1371.9" r="9.95" stroke-width="3.1"/>
<circle cx="1885.0" cy="1371.9" r="9.95" stroke-width="3.1"/>
<circle cx="1962.5" cy="1371.9" r="10.1"/>
<circle cx="2001.2" cy="1371.9" r="10.1"/>
<circle cx="2040.0" cy="1371.9" r="10.1"/>
<circle cx="2078.8" cy="1371.9" r="10.1"/>
<circle cx="2117.5" cy="1371.9" r="10.1"/>
<circle cx="2156.2" cy="1371.9" r="10.1"/>
<circle cx="2195.0" cy="1371.9" r="10.1"/>
<circle cx="2233.8" cy="1371.9" r="10.1"/>
<circle cx="2272.5" cy="1371.9" r="10.1"/>
<circle cx="2311.2" cy="1371.9" r="10.1"/>
<circle cx="2350.0" cy="1371.9" r="10.1"/>
<circle cx="2388.8" cy="1371.9" r="10.1"/>
<circle cx="2427.5" cy="1371.9" r="10.1"/>
<circle cx="2466.2" cy="1371.9" r="10.1"/>
<circle cx="2505.0" cy="1371.9" r="10.1"/>
<circle cx="2543.8" cy="1371.9" r="10.1"/>
<circle cx="2582.5" cy="1371.9" r="10.1"/>
<circle cx="2621.2" cy="1371.9" r="10.1"/>
<circle cx="2660.0" cy="1371.9" r="10.1"/>
<circle cx="2698.8" cy="1371.9" r="10.1"/>
<circle cx="2737.5" cy="1371.9" r="10.1"/>
<circle cx="2776.2" cy="1371.9" r="10.1"/>
<circle cx="2815.0" cy="1371.9" r="10.1"/>
<circle cx="2853.8" cy="1371.9" r="10.1"/>
<circle cx="2892.5" cy="1371.9" r="10.1"/>
<circle cx="2931.2" cy="1371.9" r="9.95" stroke-width="3.1"/>
<circle cx="2970.0" cy="1371.9" r="9.95" stroke-width="3.1"/>
<circle cx="3008.8" cy="1371.9" r="9.95" stroke-width="3.1"/>
<circle cx="3047.5" cy="1371.9" r="9.95" stroke-width="3.1"/>
<circle cx="3086.2" cy="1371.9" r="9.95" stroke-width="3.1"/>
<circle cx="3163.8" cy="1371.9" r="9.95" stroke-width="3.1"/>
<circle cx="2930.0" cy="1434.3" r="10.1"/>
<circle cx="1496.5" cy="1496.8" r="9.95" stroke-width="3.1"/>
<circle cx="1658.4" cy="1496.8" r="9.95" stroke-width="3.1"/>
<circle cx="1820.3" cy="1496.8" r="9.95" stroke-width="3.1"/>
<circle cx="1982.2" cy="1496.8" r="10.1"/>
<circle cx="2144.1" cy="1496.8" r="10.1"/>
<circle cx="2306.0" cy="1496.8" r="10.1"/>
<circle cx="2467.9" cy="1496.8" r="10.1"/>
<circle cx="2629.8" cy="1496.8" r="10.1"/>
<circle cx="2791.7" cy="1496.8" r="10.1"/>
<circle cx="3115.5" cy="1496.8" r="9.95" stroke-width="3.1"/>
<circle cx="3277.4" cy="1496.8" r="9.95" stroke-width="3.1"/>
<circle cx="1454.0" cy="1559.2" r="9.95" stroke-width="3.1"/>
<circle cx="1611.3" cy="1559.2" r="9.95" stroke-width="3.1"/>
<circle cx="1690.0" cy="1559.2" r="9.95" stroke-width="3.1"/>
<circle cx="1847.2" cy="1559.2" r="9.95" stroke-width="3.1"/>
<circle cx="1925.9" cy="1559.2" r="9.95" stroke-width="3.1"/>
<circle cx="2004.6" cy="1559.2" r="10.1"/>
<circle cx="2083.2" cy="1559.2" r="10.1"/>
<circle cx="2161.8" cy="1559.2" r="10.1"/>
<circle cx="2240.5" cy="1559.2" r="10.1"/>
<circle cx="2319.2" cy="1559.2" r="10.1"/>
<circle cx="2397.8" cy="1559.2" r="10.1"/>
<circle cx="2476.4" cy="1559.2" r="10.1"/>
<circle cx="2555.1" cy="1559.2" r="10.1"/>
<circle cx="2633.8" cy="1559.2" r="10.1"/>
<circle cx="2712.4" cy="1559.2" r="10.1"/>
<circle cx="2791.1" cy="1559.2" r="10.1"/>
<circle cx="2869.7" cy="1559.2" r="10.1"/>
<circle cx="2948.4" cy="1559.2" r="9.95" stroke-width="3.1"/>
<circle cx="3027.0" cy="1559.2" r="9.95" stroke-width="3.1"/>
<circle cx="3420.2" cy="1559.2" r="9.95" stroke-width="3.1"/>
<circle cx="1501.5" cy="1621.7" r="9.95" stroke-width="3.1"/>
<circle cx="1904.6" cy="1621.7" r="9.95" stroke-width="3.1"/>
<circle cx="2710.8" cy="1621.7" r="10.1"/>
<circle cx="3113.9" cy="1621.7" r="9.95" stroke-width="3.1"/>
<circle cx="1768.5" cy="1684.2" r="9.95" stroke-width="3.1"/>
<circle cx="2694.5" cy="1684.2" r="10.1"/>
<circle cx="3157.5" cy="1684.2" r="9.95" stroke-width="3.1"/>
<circle cx="1583.5" cy="1746.6" r="9.95" stroke-width="3.1"/>
<circle cx="1732.3" cy="1746.6" r="9.95" stroke-width="3.1"/>
<circle cx="1881.1" cy="1746.6" r="9.95" stroke-width="3.1"/>
<circle cx="2029.9" cy="1746.6" r="10.1"/>
<circle cx="2178.7" cy="1746.6" r="10.1"/>
<circle cx="2327.5" cy="1746.6" r="10.1"/>
<circle cx="2476.3" cy="1746.6" r="10.1"/>
<circle cx="2625.1" cy="1746.6" r="10.1"/>
<circle cx="2773.9" cy="1746.6" r="10.1"/>
<circle cx="2922.7" cy="1746.6" r="10.1"/>
<circle cx="3071.5" cy="1746.6" r="9.95" stroke-width="3.1"/>
<circle cx="3220.3" cy="1746.6" r="9.95" stroke-width="3.1"/>
<circle cx="3369.1" cy="1746.6" r="9.95" stroke-width="3.1"/>
<circle cx="1601.7" cy="1871.5" r="9.95" stroke-width="3.1"/>
<circle cx="1817.0" cy="1871.5" r="9.95" stroke-width="3.1"/>
<circle cx="2032.2" cy="1871.5" r="10.1"/>
<circle cx="2462.7" cy="1871.5" r="10.1"/>
<circle cx="2677.9" cy="1871.5" r="10.1"/>
<circle cx="2893.2" cy="1871.5" r="10.1"/>
<circle cx="3108.4" cy="1871.5" r="9.95" stroke-width="3.1"/>
<circle cx="1584.5" cy="1934.0" r="9.95" stroke-width="3.1"/>
<circle cx="1781.8" cy="1934.0" r="9.95" stroke-width="3.1"/>
<circle cx="1979.2" cy="1934.0" r="10.1"/>
<circle cx="2176.6" cy="1934.0" r="10.1"/>
<circle cx="2571.2" cy="1934.0" r="10.1"/>
<circle cx="2768.6" cy="1934.0" r="10.1"/>
<circle cx="2965.9" cy="1934.0" r="9.95" stroke-width="3.1"/>
<circle cx="3163.3" cy="1934.0" r="9.95" stroke-width="3.1"/>
<circle cx="3360.6" cy="1934.0" r="9.95" stroke-width="3.1"/>
<circle cx="1416.5" cy="1996.5" r="9.95" stroke-width="3.1"/>
<circle cx="1625.7" cy="1996.5" r="9.95" stroke-width="3.1"/>
<circle cx="1834.9" cy="1996.5" r="9.95" stroke-width="3.1"/>
<circle cx="1939.5" cy="1996.5" r="9.95" stroke-width="3.1"/>
<circle cx="2044.1" cy="1996.5" r="10.1"/>
<circle cx="2148.7" cy="1996.5" r="10.1"/>
<circle cx="2253.3" cy="1996.5" r="10.1"/>
<circle cx="2357.9" cy="1996.5" r="10.1"/>
<circle cx="2462.5" cy="1996.5" r="10.1"/>
<circle cx="2671.7" cy="1996.5" r="10.1"/>
<circle cx="2776.3" cy="1996.5" r="10.1"/>
<circle cx="2880.9" cy="1996.5" r="10.1"/>
<circle cx="2985.5" cy="1996.5" r="9.95" stroke-width="3.1"/>
<circle cx="3090.1" cy="1996.5" r="9.95" stroke-width="3.1"/>
<circle cx="3299.3" cy="1996.5" r="9.95" stroke-width="3.1"/>
<circle cx="3403.9" cy="1996.5" r="9.95" stroke-width="3.1"/>
<circle cx="1782.0" cy="2058.9" r="9.95" stroke-width="3.1"/>
<circle cx="3192.0" cy="2058.9" r="9.95" stroke-width="3.1"/>
<circle cx="1529.0" cy="2183.8" r="9.95" stroke-width="3.1"/>
<circle cx="1687.4" cy="2183.8" r="9.95" stroke-width="3.1"/>
<circle cx="1845.8" cy="2183.8" r="9.95" stroke-width="3.1"/>
<circle cx="2004.2" cy="2183.8" r="10.1"/>
<circle cx="2162.6" cy="2183.8" r="10.1"/>
<circle cx="2321.0" cy="2183.8" r="10.1"/>
<circle cx="2637.8" cy="2183.8" r="10.1"/>
<circle cx="2796.2" cy="2183.8" r="10.1"/>
<circle cx="2954.6" cy="2183.8" r="9.95" stroke-width="3.1"/>
<circle cx="3113.0" cy="2183.8" r="9.95" stroke-width="3.1"/>
<circle cx="3271.4" cy="2183.8" r="9.95" stroke-width="3.1"/>
<circle cx="3429.8" cy="2183.8" r="9.95" stroke-width="3.1"/>
<circle cx="1704.5" cy="2246.3" r="9.95" stroke-width="3.1"/>
<circle cx="3098.5" cy="2246.3" r="9.95" stroke-width="3.1"/>
<circle cx="1819.3" cy="2308.8" r="9.95" stroke-width="3.1"/>
<circle cx="3158.5" cy="2308.8" r="9.95" stroke-width="3.1"/>
<circle cx="2516.0" cy="2371.2" r="10.1"/>
<circle cx="3151.0" cy="2371.2" r="9.95" stroke-width="3.1"/>
<circle cx="1702.5" cy="2433.7" r="9.95" stroke-width="3.1"/>
<circle cx="2075.5" cy="2433.7" r="10.1"/>
<circle cx="2821.7" cy="2433.7" r="10.1"/>
<circle cx="3195.0" cy="2433.7" r="9.95" stroke-width="3.1"/>
<circle cx="1522.5" cy="2496.1" r="9.95" stroke-width="3.1"/>
<circle cx="1722.6" cy="2496.1" r="9.95" stroke-width="3.1"/>
<circle cx="1922.7" cy="2496.1" r="9.95" stroke-width="3.1"/>
<circle cx="2122.8" cy="2496.1" r="10.1"/>
<circle cx="2322.9" cy="2496.1" r="10.1"/>
<circle cx="2723.1" cy="2496.1" r="10.1"/>
<circle cx="2923.2" cy="2496.1" r="10.1"/>
<circle cx="1593.0" cy="2558.6" r="9.95" stroke-width="3.1"/>
<circle cx="1656.0" cy="2558.6" r="9.95" stroke-width="3.1"/>
<circle cx="1719.0" cy="2558.6" r="9.95" stroke-width="3.1"/>
<circle cx="1782.0" cy="2558.6" r="9.95" stroke-width="3.1"/>
<circle cx="1845.0" cy="2558.6" r="9.95" stroke-width="3.1"/>
<circle cx="1908.0" cy="2558.6" r="9.95" stroke-width="3.1"/>
<circle cx="1971.0" cy="2558.6" r="10.1"/>
<circle cx="2034.0" cy="2558.6" r="10.1"/>
<circle cx="2097.0" cy="2558.6" r="10.1"/>
<circle cx="2160.0" cy="2558.6" r="10.1"/>
<circle cx="2223.0" cy="2558.6" r="10.1"/>
<circle cx="2286.0" cy="2558.6" r="10.1"/>
<circle cx="2349.0" cy="2558.6" r="10.1"/>
<circle cx="2412.0" cy="2558.6" r="10.1"/>
<circle cx="2475.0" cy="2558.6" r="10.1"/>
<circle cx="2538.0" cy="2558.6" r="10.1"/>
<circle cx="2601.0" cy="2558.6" r="10.1"/>
<circle cx="2664.0" cy="2558.6" r="10.1"/>
<circle cx="2727.0" cy="2558.6" r="10.1"/>
<circle cx="2790.0" cy="2558.6" r="10.1"/>
<circle cx="2853.0" cy="2558.6" r="10.1"/>
<circle cx="2916.0" cy="2558.6" r="10.1"/>
<circle cx="2979.0" cy="2558.6" r="9.95" stroke-width="3.1"/>
<circle cx="3105.0" cy="2558.6" r="9.95" stroke-width="3.1"/>
<circle cx="3168.0" cy="2558.6" r="9.95" stroke-width="3.1"/>
<circle cx="3357.0" cy="2558.6" r="9.95" stroke-width="3.1"/>
<circle cx="3420.0" cy="2558.6" r="9.95" stroke-width="3.1"/>
<circle cx="1578.0" cy="2621.1" r="9.95" stroke-width="3.1"/>
<circle cx="1768.7" cy="2621.1" r="9.95" stroke-width="3.1"/>
<circle cx="1959.4" cy="2621.1" r="10.1"/>
<circle cx="2150.1" cy="2621.1" r="10.1"/>
<circle cx="2531.5" cy="2621.1" r="10.1"/>
<circle cx="2722.2" cy="2621.1" r="10.1"/>
<circle cx="2912.9" cy="2621.1" r="10.1"/>
<circle cx="3103.6" cy="2621.1" r="9.95" stroke-width="3.1"/>
<circle cx="3294.3" cy="2621.1" r="9.95" stroke-width="3.1"/>
</g>
<g class="q">
<circle cx="2265.0" cy="60.2" r="16.7"/>
<circle cx="2245.8" cy="122.7" r="16.7"/>
<circle cx="2421.0" cy="185.1" r="16.7"/>
<circle cx="2226.0" cy="247.6" r="16.7"/>
<circle cx="2046.5" cy="310.0" r="16.7"/>
<circle cx="2421.0" cy="372.5" r="16.7"/>
<circle cx="2276.0" cy="435.0" r="16.7"/>
<circle cx="2240.5" cy="497.4" r="16.7"/>
<circle cx="2212.5" cy="559.9" r="16.7"/>
<circle cx="2166.0" cy="622.3" r="16.7"/>
<circle cx="2219.0" cy="684.8" r="16.7"/>
<circle cx="1914.6" cy="747.3" r="16.7"/>
<circle cx="2484.5" cy="809.7" r="16.7"/>
<circle cx="2421.0" cy="872.2" r="16.7"/>
<circle cx="2440.6" cy="934.6" r="16.7"/>
<circle cx="2182.5" cy="997.1" r="16.7"/>
<circle cx="2235.0" cy="1059.6" r="16.7"/>
<circle cx="2225.8" cy="1122.0" r="16.7"/>
<circle cx="2415.0" cy="1184.5" r="16.7"/>
<circle cx="2257.3" cy="1246.9" r="16.7"/>
<circle cx="2421.3" cy="1309.4" r="16.7"/>
<circle cx="2195.0" cy="1371.9" r="16.7"/>
<circle cx="2334.5" cy="1434.3" r="16.7"/>
<circle cx="2468.0" cy="1496.8" r="16.7"/>
<circle cx="2319.3" cy="1559.2" r="16.7"/>
<circle cx="2307.7" cy="1621.7" r="16.7"/>
<circle cx="2231.5" cy="1684.2" r="16.7"/>
<circle cx="2625.2" cy="1746.6" r="16.7"/>
<circle cx="2477.5" cy="1809.1" r="16.7"/>
<circle cx="2247.6" cy="1871.5" r="16.7"/>
<circle cx="2374.0" cy="1934.0" r="16.7"/>
<circle cx="2567.1" cy="1996.5" r="16.7"/>
<circle cx="2487.0" cy="2058.9" r="16.7"/>
<circle cx="2450.0" cy="2121.4" r="16.7"/>
<circle cx="2479.4" cy="2183.8" r="16.7"/>
<circle cx="2401.5" cy="2246.3" r="16.7"/>
<circle cx="2489.0" cy="2308.8" r="16.7"/>
<circle cx="1881.3" cy="2371.2" r="16.7"/>
<circle cx="2448.7" cy="2433.7" r="16.7"/>
<circle cx="2523.2" cy="2496.1" r="16.7"/>
<circle cx="2223.0" cy="2558.6" r="16.7"/>
<circle cx="2340.8" cy="2621.1" r="16.7"/>
</g>
<line x1="2439.40" x2="2439.40" y1="2657.7" y2="23.8" stroke="#808080" stroke-width="3.55"/>
<line x1="1922.20" x2="1922.20" y1="2657.7" y2="23.8" stroke="#808080" stroke-width="5.4" stroke-dasharray="21.33 21.33"/>
<line x1="2956.60" x2="2956.60" y1="2657.7" y2="23.8" stroke="#808080" stroke-width="5.4" stroke-dasharray="21.33 21.33"/>
<rect x="1302.3" y="23.8" width="2273.9" height="2633.9" fill="none" stroke="#000" stroke-width="2.2"/>
<g stroke="#333333" stroke-width="4">
<line x1="1289.8" x2="1301.3" y1="60.20" y2="60.20"/>
<line x1="1289.8" x2="1301.3" y1="122.66" y2="122.66"/>
<line x1="1289.8" x2="1301.3" y1="185.12" y2="185.12"/>
<line x1="1289.8" x2="1301.3" y1="247.58" y2="247.58"/>
<line x1="1289.8" x2="1301.3" y1="310.04" y2="310.04"/>
<line x1="1289.8" x2="1301.3" y1="372.50" y2="372.50"/>
<line x1="1289.8" x2="1301.3" y1="434.96" y2="434.96"/>
<line x1="1289.8" x2="1301.3" y1="497.42" y2="497.42"/>
<line x1="1289.8" x2="1301.3" y1="559.88" y2="559.88"/>
<line x1="1289.8" x2="1301.3" y1="622.34" y2="622.34"/>
<line x1="1289.8" x2="1301.3" y1="684.80" y2="684.80"/>
<line x1="1289.8" x2="1301.3" y1="747.26" y2="747.26"/>
<line x1="1289.8" x2="1301.3" y1="809.72" y2="809.72"/>
<line x1="1289.8" x2="1301.3" y1="872.18" y2="872.18"/>
<line x1="1289.8" x2="1301.3" y1="934.64" y2="934.64"/>
<line x1="1289.8" x2="1301.3" y1="997.10" y2="997.10"/>
<line x1="1289.8" x2="1301.3" y1="1059.56" y2="1059.56"/>
<line x1="1289.8" x2="1301.3" y1="1122.02" y2="1122.02"/>
<line x1="1289.8" x2="1301.3" y1="1184.48" y2="1184.48"/>
<line x1="1289.8" x2="1301.3" y1="1246.94" y2="1246.94"/>
<line x1="1289.8" x2="1301.3" y1="1309.40" y2="1309.40"/>
<line x1="1289.8" x2="1301.3" y1="1371.86" y2="1371.86"/>
<line x1="1289.8" x2="1301.3" y1="1434.32" y2="1434.32"/>
<line x1="1289.8" x2="1301.3" y1="1496.78" y2="1496.78"/>
<line x1="1289.8" x2="1301.3" y1="1559.24" y2="1559.24"/>
<line x1="1289.8" x2="1301.3" y1="1621.70" y2="1621.70"/>
<line x1="1289.8" x2="1301.3" y1="1684.16" y2="1684.16"/>
<line x1="1289.8" x2="1301.3" y1="1746.62" y2="1746.62"/>
<line x1="1289.8" x2="1301.3" y1="1809.08" y2="1809.08"/>
<line x1="1289.8" x2="1301.3" y1="1871.54" y2="1871.54"/>
<line x1="1289.8" x2="1301.3" y1="1934.00" y2="1934.00"/>
<line x1="1289.8" x2="1301.3" y1="1996.46" y2="1996.46"/>
<line x1="1289.8" x2="1301.3" y1="2058.92" y2="2058.92"/>
<line x1="1289.8" x2="1301.3" y1="2121.38" y2="2121.38"/>
<line x1="1289.8" x2="1301.3" y1="2183.84" y2="2183.84"/>
<line x1="1289.8" x2="1301.3" y1="2246.30" y2="2246.30"/>
<line x1="1289.8" x2="1301.3" y1="2308.76" y2="2308.76"/>
<line x1="1289.8" x2="1301.3" y1="2371.22" y2="2371.22"/>
<line x1="1289.8" x2="1301.3" y1="2433.68" y2="2433.68"/>
<line x1="1289.8" x2="1301.3" y1="2496.14" y2="2496.14"/>
<line x1="1289.8" x2="1301.3" y1="2558.60" y2="2558.60"/>
<line x1="1289.8" x2="1301.3" y1="2621.06" y2="2621.06"/>
<line x1="1405.00" x2="1405.00" y1="2658.7" y2="2670.2"/>
<line x1="1663.60" x2="1663.60" y1="2658.7" y2="2670.2"/>
<line x1="1922.20" x2="1922.20" y1="2658.7" y2="2670.2"/>
<line x1="2180.80" x2="2180.80" y1="2658.7" y2="2670.2"/>
<line x1="2439.40" x2="2439.40" y1="2658.7" y2="2670.2"/>
<line x1="2698.00" x2="2698.00" y1="2658.7" y2="2670.2"/>
<line x1="2956.60" x2="2956.60" y1="2658.7" y2="2670.2"/>
<line x1="3215.20" x2="3215.20" y1="2658.7" y2="2670.2"/>
<line x1="3473.80" x2="3473.80" y1="2658.7" y2="2670.2"/>
</g>
<text x="503.5 535.5 551.5 583.5 599.5 644.5 657.5 689.5 721.5 753.5 766.5 782.5 814.5 846.5 878.5 894.5 926.5 955.5 987.5 1006.5 1035.5 1048.5 1080.5 1122.5 1138.5 1187.5 1219.5 1251.5" y="75.8" font-size="58.33" fill="#B5838D">1.0 Global and overview maps</text>
<text x="522.5 554.5 570.5 602.5 618.5 660.5 692.5 711.5 743.5 775.5 807.5 836.5 868.5 887.5 919.5 935.5 967.5 983.5 1032.5 1064.5 1080.5 1112.5 1144.5 1176.5 1189.5 1202.5 1231.5" y="138.3" font-size="58.33" fill="#B5838D">1.1 Carbohydrate metabolism</text>
<text x="688.5 720.5 736.5 768.5 784.5 823.5 855.5 887.5 906.5 938.5 967.5 983.5 1032.5 1064.5 1080.5 1112.5 1144.5 1176.5 1189.5 1202.5 1231.5" y="200.7" font-size="58.33" fill="#B5838D">1.2 Energy metabolism</text>
<text x="749.5 781.5 797.5 829.5 845.5 877.5 890.5 922.5 935.5 967.5 983.5 1032.5 1064.5 1080.5 1112.5 1144.5 1176.5 1189.5 1202.5 1231.5" y="263.2" font-size="58.33" fill="#B5838D">1.3 Lipid metabolism</text>
<text x="598.5 630.5 646.5 678.5 694.5 736.5 768.5 797.5 810.5 842.5 874.5 890.5 903.5 935.5 967.5 983.5 1032.5 1064.5 1080.5 1112.5 1144.5 1176.5 1189.5 1202.5 1231.5" y="325.6" font-size="58.33" fill="#B5838D">1.4 Nucleotide metabolism</text>
<text x="584.5 616.5 632.5 664.5 680.5 719.5 768.5 781.5 813.5 845.5 861.5 893.5 922.5 935.5 967.5 983.5 1032.5 1064.5 1080.5 1112.5 1144.5 1176.5 1189.5 1202.5 1231.5" y="388.1" font-size="58.33" fill="#B5838D">1.5 Amino acid metabolism</text>
<text x="351.5 383.5 399.5 431.5 447.5 496.5 528.5 544.5 576.5 608.5 640.5 653.5 666.5 695.5 744.5 760.5 792.5 808.5 824.5 856.5 872.5 904.5 936.5 955.5 971.5 1003.5 1052.5 1065.5 1097.5 1129.5 1145.5 1177.5 1206.5 1219.5 1251.5" y="450.6" font-size="58.33" fill="#B5838D">1.6 Metabolism of other amino acids</text>
<text x="245.5 277.5 293.5 325.5 341.5 386.5 399.5 428.5 457.5 489.5 521.5 537.5 569.5 582.5 614.5 643.5 672.5 704.5 720.5 752.5 784.5 813.5 826.5 855.5 871.5 903.5 935.5 967.5 983.5 1032.5 1064.5 1080.5 1112.5 1144.5 1176.5 1189.5 1202.5 1231.5" y="513.0" font-size="58.33" fill="#B5838D">1.7 Glycan biosynthesis and metabolism</text>
<text x="232.5 264.5 280.5 312.5 328.5 377.5 409.5 425.5 457.5 489.5 521.5 534.5 547.5 576.5 625.5 641.5 673.5 689.5 705.5 734.5 766.5 782.5 814.5 843.5 859.5 891.5 910.5 939.5 955.5 987.5 1019.5 1051.5 1067.5 1096.5 1109.5 1125.5 1157.5 1206.5 1219.5 1251.5" y="575.5" font-size="58.33" fill="#B5838D">1.8 Metabolism of cofactors and vitamins</text>
<text x="121.5 153.5 169.5 201.5 217.5 266.5 298.5 314.5 346.5 378.5 410.5 423.5 436.5 465.5 514.5 530.5 562.5 578.5 594.5 610.5 642.5 661.5 693.5 725.5 757.5 789.5 802.5 834.5 863.5 879.5 911.5 943.5 975.5 991.5 1023.5 1055.5 1068.5 1097.5 1126.5 1158.5 1174.5 1187.5 1219.5 1251.5" y="637.9" font-size="58.33" fill="#B5838D">1.9 Metabolism of terpenoids and polyketides</text>
<text x="22.5 54.5 70.5 102.5 134.5 150.5 189.5 202.5 234.5 263.5 292.5 324.5 340.5 372.5 404.5 433.5 446.5 475.5 491.5 523.5 539.5 555.5 587.5 603.5 635.5 667.5 686.5 702.5 731.5 763.5 792.5 824.5 856.5 888.5 920.5 939.5 968.5 984.5 1033.5 1065.5 1081.5 1113.5 1145.5 1177.5 1190.5 1203.5 1219.5 1251.5" y="700.4" font-size="58.33" fill="#B5838D">1.10 Biosynthesis of other secondary metabolites</text>
<text x="31.5 63.5 79.5 111.5 143.5 159.5 198.5 230.5 262.5 294.5 326.5 339.5 371.5 387.5 400.5 429.5 458.5 474.5 506.5 519.5 551.5 583.5 615.5 647.5 666.5 698.5 730.5 762.5 778.5 791.5 823.5 855.5 871.5 903.5 935.5 967.5 983.5 1032.5 1064.5 1080.5 1112.5 1144.5 1176.5 1189.5 1202.5 1231.5" y="762.9" font-size="58.33" fill="#B5838D">1.11 Xenobiotics biodegradation and metabolism</text>
<text x="850.5 882.5 898.5 930.5 946.5 982.5 1001.5 1033.5 1065.5 1094.5 1123.5 1142.5 1155.5 1187.5 1203.5 1216.5 1248.5" y="825.3" font-size="58.33" fill="#277DA1">2.1 Transcription</text>
<text x="898.5 930.5 946.5 978.5 994.5 1030.5 1049.5 1081.5 1113.5 1142.5 1155.5 1187.5 1203.5 1216.5 1248.5" y="887.8" font-size="58.33" fill="#277DA1">2.2 Translation</text>
<text x="357.5 389.5 405.5 437.5 453.5 489.5 521.5 534.5 566.5 579.5 611.5 643.5 659.5 675.5 704.5 736.5 755.5 771.5 784.5 816.5 848.5 864.5 896.5 928.5 960.5 976.5 1008.5 1040.5 1072.5 1091.5 1123.5 1155.5 1187.5 1203.5 1216.5 1248.5" y="950.2" font-size="58.33" fill="#277DA1">2.3 Folding, sorting and degradation</text>
<text x="623.5 655.5 671.5 703.5 719.5 761.5 793.5 825.5 838.5 851.5 880.5 912.5 928.5 941.5 973.5 1005.5 1021.5 1053.5 1085.5 1117.5 1133.5 1152.5 1184.5 1216.5 1248.5 1261.5" y="1012.7" font-size="58.33" fill="#277DA1">2.4 Replication and repair</text>
<text x="664.5 696.5 712.5 744.5 760.5 809.5 841.5 890.5 922.5 941.5 973.5 1005.5 1037.5 1053.5 1069.5 1088.5 1120.5 1152.5 1181.5 1213.5 1245.5 1264.5" y="1075.2" font-size="58.33" fill="#F3722C">3.1 Membrane transport</text>
<text x="693.5 725.5 741.5 773.5 789.5 828.5 841.5 873.5 905.5 937.5 950.5 966.5 982.5 1001.5 1033.5 1065.5 1094.5 1126.5 1158.5 1187.5 1203.5 1216.5 1248.5" y="1137.6" font-size="58.33" fill="#F3722C">3.2 Signal transduction</text>
<text x="532.5 564.5 580.5 612.5 628.5 664.5 683.5 715.5 747.5 776.5 808.5 840.5 859.5 875.5 891.5 923.5 955.5 987.5 1003.5 1032.5 1064.5 1080.5 1112.5 1144.5 1176.5 1189.5 1202.5 1231.5" y="1200.1" font-size="58.33" fill="#4EA8DE">4.1 Transport and catabolism</text>
<text x="623.5 655.5 671.5 703.5 719.5 761.5 793.5 806.5 819.5 835.5 867.5 886.5 918.5 960.5 976.5 1008.5 1024.5 1056.5 1088.5 1120.5 1136.5 1168.5 1200.5 1232.5 1248.5" y="1262.5" font-size="58.33" fill="#4EA8DE">4.2 Cell growth and death</text>
<text x="358.5 390.5 406.5 438.5 454.5 496.5 528.5 541.5 554.5 586.5 599.5 631.5 650.5 666.5 695.5 727.5 776.5 825.5 857.5 889.5 902.5 918.5 947.5 963.5 982.5 998.5 1030.5 1062.5 1091.5 1123.5 1142.5 1171.5 1203.5 1219.5 1251.5" y="1325.0" font-size="58.33" fill="#4EA8DE">4.3 Cellular community - eukaryotes</text>
<text x="339.5 371.5 387.5 419.5 435.5 477.5 509.5 522.5 535.5 567.5 580.5 612.5 631.5 647.5 676.5 708.5 757.5 806.5 838.5 870.5 883.5 899.5 928.5 944.5 963.5 979.5 1011.5 1030.5 1062.5 1091.5 1123.5 1142.5 1171.5 1203.5 1219.5 1251.5" y="1387.5" font-size="58.33" fill="#4EA8DE">4.4 Cellular community - prokaryotes</text>
<text x="887.5 919.5 935.5 967.5 983.5 1025.5 1057.5 1070.5 1083.5 1099.5 1148.5 1180.5 1196.5 1209.5 1222.5 1235.5 1251.5" y="1449.9" font-size="58.33" fill="#4EA8DE">4.5 Cell motility</text>
<text x="774.5 806.5 822.5 854.5 870.5 886.5 935.5 984.5 1016.5 1048.5 1080.5 1096.5 1125.5 1154.5 1183.5 1199.5 1231.5" y="1512.4" font-size="58.33" fill="#F8961E">5.1 Immune system</text>
<text x="724.5 756.5 772.5 804.5 820.5 859.5 891.5 923.5 955.5 984.5 1003.5 1016.5 1048.5 1080.5 1096.5 1125.5 1154.5 1183.5 1199.5 1231.5" y="1574.8" font-size="58.33" fill="#F8961E">5.2 Endocrine system</text>
<text x="746.5 778.5 794.5 826.5 842.5 884.5 897.5 929.5 961.5 990.5 1006.5 1019.5 1048.5 1080.5 1096.5 1125.5 1154.5 1183.5 1199.5 1231.5" y="1637.3" font-size="58.33" fill="#F8961E">5.4 Digestive system</text>
<text x="740.5 772.5 788.5 820.5 836.5 875.5 904.5 933.5 952.5 984.5 1000.5 1032.5 1051.5 1080.5 1096.5 1125.5 1154.5 1183.5 1199.5 1231.5" y="1699.8" font-size="58.33" fill="#F8961E">5.5 Excretory system</text>
<text x="769.5 801.5 817.5 849.5 865.5 907.5 939.5 958.5 987.5 1019.5 1051.5 1080.5 1096.5 1125.5 1154.5 1183.5 1199.5 1231.5" y="1762.2" font-size="58.33" fill="#F8961E">5.6 Nervous system</text>
<text x="392.5 424.5 440.5 472.5 488.5 530.5 562.5 591.5 623.5 636.5 668.5 700.5 749.5 781.5 813.5 829.5 845.5 877.5 909.5 941.5 957.5 976.5 1008.5 1040.5 1072.5 1104.5 1136.5 1155.5 1187.5 1203.5 1216.5 1248.5" y="1824.7" font-size="58.33" fill="#F8961E">5.8 Development and regeneration</text>
<text x="1036.5 1068.5 1084.5 1116.5 1132.5 1171.5 1203.5 1216.5 1248.5" y="1887.1" font-size="58.33" fill="#F8961E">5.9 Aging</text>
<text x="497.5 529.5 545.5 577.5 609.5 625.5 664.5 696.5 725.5 738.5 757.5 789.5 821.5 870.5 902.5 934.5 950.5 982.5 995.5 1011.5 1043.5 1075.5 1107.5 1139.5 1155.5 1187.5 1203.5 1216.5 1248.5" y="1949.6" font-size="58.33" fill="#F8961E">5.10 Environmental adaptation</text>
<text x="738.5 770.5 786.5 818.5 834.5 876.5 908.5 940.5 969.5 1001.5 1020.5 1036.5 1052.5 1084.5 1113.5 1145.5 1164.5 1193.5 1206.5 1238.5" y="2012.1" font-size="58.33" fill="#90BE6D">6.1 Cancer: overview</text>
<text x="619.5 651.5 667.5 699.5 715.5 757.5 789.5 821.5 850.5 882.5 901.5 917.5 933.5 962.5 994.5 1026.5 1055.5 1068.5 1084.5 1097.5 1126.5 1142.5 1158.5 1187.5 1219.5 1251.5" y="2074.5" font-size="58.33" fill="#90BE6D">6.2 Cancer: specific types</text>
<text x="584.5 616.5 632.5 664.5 680.5 696.5 728.5 744.5 776.5 805.5 821.5 834.5 866.5 898.5 927.5 943.5 975.5 988.5 1017.5 1049.5 1081.5 1110.5 1142.5 1158.5 1174.5 1203.5 1216.5 1235.5 1267.5" y="2137.0" font-size="58.33" fill="#90BE6D">6.3 Infectious disease: viral</text>
<text x="472.5 504.5 520.5 552.5 568.5 584.5 616.5 632.5 664.5 693.5 709.5 722.5 754.5 786.5 815.5 831.5 863.5 876.5 905.5 937.5 969.5 998.5 1030.5 1046.5 1062.5 1094.5 1126.5 1155.5 1171.5 1203.5 1222.5 1235.5 1267.5" y="2199.4" font-size="58.33" fill="#90BE6D">6.4 Infectious disease: bacterial</text>
<text x="475.5 507.5 523.5 555.5 571.5 587.5 619.5 635.5 667.5 696.5 712.5 725.5 757.5 789.5 818.5 834.5 866.5 879.5 908.5 940.5 972.5 1001.5 1033.5 1049.5 1065.5 1097.5 1129.5 1148.5 1180.5 1209.5 1222.5 1238.5 1251.5" y="2261.9" font-size="58.33" fill="#90BE6D">6.5 Infectious disease: parasitic</text>
<text x="759.5 791.5 807.5 839.5 855.5 871.5 920.5 969.5 1001.5 1033.5 1065.5 1081.5 1113.5 1126.5 1155.5 1187.5 1219.5 1248.5" y="2324.4" font-size="58.33" fill="#90BE6D">6.6 Immune disease</text>
<text x="479.5 511.5 527.5 559.5 575.5 617.5 649.5 681.5 700.5 732.5 764.5 796.5 828.5 860.5 892.5 924.5 943.5 975.5 991.5 1004.5 1033.5 1065.5 1081.5 1113.5 1126.5 1155.5 1187.5 1219.5 1248.5" y="2386.8" font-size="58.33" fill="#90BE6D">6.7 Neurodegenerative disease</text>
<text x="584.5 616.5 632.5 664.5 680.5 722.5 754.5 773.5 805.5 818.5 850.5 879.5 911.5 940.5 969.5 1001.5 1014.5 1046.5 1065.5 1081.5 1113.5 1126.5 1155.5 1187.5 1219.5 1248.5" y="2449.3" font-size="58.33" fill="#90BE6D">6.9 Cardiovascular disease</text>
<text x="301.5 333.5 349.5 381.5 413.5 429.5 468.5 500.5 532.5 564.5 593.5 612.5 625.5 657.5 689.5 705.5 737.5 769.5 801.5 817.5 866.5 898.5 914.5 946.5 978.5 1010.5 1023.5 1036.5 1065.5 1081.5 1113.5 1126.5 1155.5 1187.5 1219.5 1248.5" y="2511.7" font-size="58.33" fill="#90BE6D">6.10 Endocrine and metabolic disease</text>
<text x="391.5 423.5 439.5 471.5 503.5 519.5 561.5 580.5 612.5 644.5 660.5 679.5 711.5 740.5 753.5 782.5 798.5 830.5 862.5 891.5 923.5 939.5 955.5 987.5 1019.5 1035.5 1048.5 1097.5 1110.5 1139.5 1158.5 1190.5 1222.5 1235.5 1267.5" y="2574.2" font-size="58.33" fill="#90BE6D">6.11 Drug resistance: antimicrobial</text>
<text x="363.5 395.5 411.5 443.5 475.5 491.5 533.5 552.5 584.5 616.5 632.5 651.5 683.5 712.5 725.5 754.5 770.5 802.5 834.5 863.5 895.5 911.5 927.5 959.5 991.5 1007.5 1020.5 1052.5 1084.5 1116.5 1148.5 1161.5 1193.5 1222.5 1238.5 1251.5" y="2636.7" font-size="58.33" fill="#90BE6D">6.12 Drug resistance: antineoplastic</text>
<text x="1379.5 1398.5" y="2721.9" font-size="58.33" fill="#4D4D4D">-4</text>
<text x="1638.1 1657.1" y="2721.9" font-size="58.33" fill="#4D4D4D">-3</text>
<text x="1896.7 1915.7" y="2721.9" font-size="58.33" fill="#4D4D4D">-2</text>
<text x="2155.3 2174.3" y="2721.9" font-size="58.33" fill="#4D4D4D">-1</text>
<text x="2423.4" y="2721.9" font-size="58.33" fill="#4D4D4D">0</text>
<text x="2682" y="2721.9" font-size="58.33" fill="#4D4D4D">1</text>
<text x="2940.6" y="2721.9" font-size="58.33" fill="#4D4D4D">2</text>
<text x="3199.2" y="2721.9" font-size="58.33" fill="#4D4D4D">3</text>
<text x="3457.8" y="2721.9" font-size="58.33" fill="#4D4D4D">4</text>
<g transform="translate(0,2799) scale(1,1.04)"><text x="2312.4 2355.4 2379.4 2418.4 2457.4 2500.4 2527.4" y="0.0" font-size="70.6" font-weight="bold" fill="#000">Z-score</text></g>
<circle class="bg" cx="2136.3" cy="2918.6" r="9.95" stroke-width="3.1"/>
<text x="2195.7 2234.7 2266.7 2295.7 2324.7 2356.7 2375.7 2407.7 2439.7 2471.7" y="2940.0" font-size="58.33" fill="#000">Background</text>
<circle class="q" cx="2562" cy="2918.6" r="16.7"/>
<text x="2621 2666 2698 2730 2749" y="2940.0" font-size="58.33" fill="#000">Query</text>
</svg></body></html>
